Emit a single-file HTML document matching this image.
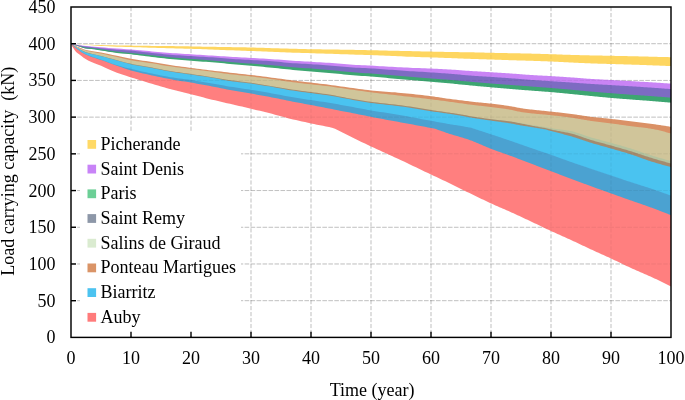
<!DOCTYPE html>
<html><head><meta charset="utf-8"><style>
html,body{margin:0;padding:0;background:#fff;overflow:hidden;}
svg{display:block;will-change:transform;}
text{font-family:"Liberation Serif",serif;font-size:18px;fill:#000;}
</style></head><body>
<svg width="685" height="400" viewBox="0 0 685 400">
<rect width="685" height="400" fill="#fff"/>
<g id="grid" stroke="#000" stroke-opacity="0.2" stroke-width="1" fill="none">
<g stroke-dasharray="4.6 1.38" stroke-dashoffset="-0.2">
<line x1="71" y1="300.69" x2="671" y2="300.69"/>
<line x1="71" y1="263.98" x2="671" y2="263.98"/>
<line x1="71" y1="227.27" x2="671" y2="227.27"/>
<line x1="71" y1="190.56" x2="671" y2="190.56"/>
<line x1="71" y1="153.84" x2="671" y2="153.84"/>
<line x1="71" y1="117.13" x2="671" y2="117.13"/>
<line x1="71" y1="80.42" x2="671" y2="80.42"/>
<line x1="71" y1="43.71" x2="671" y2="43.71"/>
</g>
<g stroke-dasharray="4.2 1.78">
<line x1="131.00" y1="7" x2="131.00" y2="337"/>
<line x1="191.00" y1="7" x2="191.00" y2="337"/>
<line x1="251.00" y1="7" x2="251.00" y2="337"/>
<line x1="311.00" y1="7" x2="311.00" y2="337"/>
<line x1="371.00" y1="7" x2="371.00" y2="337"/>
<line x1="431.00" y1="7" x2="431.00" y2="337"/>
<line x1="491.00" y1="7" x2="491.00" y2="337"/>
<line x1="551.00" y1="7" x2="551.00" y2="337"/>
<line x1="611.00" y1="7" x2="611.00" y2="337"/>
</g>
</g>
<polygon points="71.00,43.67 71.10,43.72 71.42,43.88 71.94,44.13 72.67,44.49 73.60,44.93 74.75,45.47 76.10,46.08 77.67,46.75 79.44,47.49 81.42,48.31 83.60,49.16 86.00,49.90 88.60,50.49 91.42,51.02 94.44,51.52 97.67,52.02 101.10,52.62 104.75,53.33 108.60,54.10 112.67,54.92 116.94,55.79 121.42,56.74 126.10,57.74 131.00,58.70 134.00,59.23 137.00,59.72 140.00,60.19 143.00,60.65 146.00,61.11 149.00,61.58 152.00,62.06 155.00,62.56 158.00,63.07 161.00,63.58 164.00,64.09 167.00,64.58 170.00,65.05 173.00,65.49 176.00,65.92 179.00,66.33 182.00,66.73 185.00,67.12 188.00,67.51 191.00,67.90 194.00,68.29 197.00,68.67 200.00,69.04 203.00,69.42 206.00,69.79 209.00,70.15 212.00,70.52 215.00,70.89 218.00,71.26 221.00,71.62 224.00,71.98 227.00,72.33 230.00,72.68 233.00,73.03 236.00,73.36 239.00,73.68 242.00,74.00 245.00,74.33 248.00,74.66 251.00,75.00 254.00,75.36 257.00,75.72 260.00,76.09 263.00,76.47 266.00,76.85 269.00,77.24 272.00,77.63 275.00,78.03 278.00,78.44 281.00,78.86 284.00,79.27 287.00,79.68 290.00,80.07 293.00,80.45 296.00,80.82 299.00,81.18 302.00,81.54 305.00,81.89 308.00,82.24 311.00,82.60 314.00,82.96 317.00,83.31 320.00,83.66 323.00,84.01 326.00,84.37 329.00,84.74 332.00,85.13 335.00,85.55 338.00,85.98 341.00,86.40 344.00,86.82 347.00,87.24 350.00,87.67 353.00,88.11 356.00,88.53 359.00,88.94 362.00,89.34 365.00,89.72 368.00,90.08 371.00,90.40 374.00,90.69 377.00,90.96 380.00,91.21 383.00,91.45 386.00,91.68 389.00,91.91 392.00,92.14 395.00,92.37 398.00,92.63 401.00,92.90 404.00,93.19 407.00,93.49 410.00,93.79 413.00,94.11 416.00,94.43 419.00,94.77 422.00,95.11 425.00,95.46 428.00,95.83 431.00,96.20 434.00,96.60 436.00,96.89 437.00,97.03 439.00,97.34 440.00,97.49 442.00,97.79 443.00,97.95 445.00,98.25 446.00,98.40 448.00,98.69 449.00,98.83 451.00,99.10 452.00,99.23 454.00,99.47 455.00,99.59 457.00,99.82 458.00,99.94 460.00,100.18 461.00,100.30 463.00,100.56 464.00,100.69 466.00,100.96 467.00,101.10 469.00,101.35 470.00,101.48 471.00,101.59 472.00,101.71 473.00,101.82 474.00,101.92 475.00,102.03 476.00,102.13 477.00,102.22 478.00,102.32 479.00,102.41 480.00,102.51 481.00,102.60 482.00,102.69 483.00,102.79 484.00,102.88 485.00,102.97 486.00,103.07 487.00,103.17 488.00,103.27 489.00,103.38 490.00,103.49 491.00,103.60 492.00,103.72 493.00,103.83 494.00,103.95 495.00,104.07 496.00,104.20 497.00,104.32 498.00,104.45 499.00,104.57 500.00,104.70 501.00,104.84 502.00,104.97 503.00,105.11 504.00,105.25 505.00,105.39 506.00,105.53 507.00,105.68 508.00,105.83 509.00,105.98 510.00,106.15 511.00,106.31 512.00,106.47 513.00,106.66 514.00,106.86 515.00,107.05 516.00,107.26 517.00,107.46 518.00,107.66 519.00,107.84 520.00,108.02 521.00,108.20 522.00,108.34 523.00,108.49 524.00,108.63 525.00,108.76 526.00,108.89 527.00,109.02 528.00,109.14 529.00,109.26 530.00,109.38 531.00,109.50 532.00,109.61 533.00,109.73 534.00,109.84 535.00,109.95 536.00,110.06 537.00,110.16 538.00,110.26 539.00,110.37 540.00,110.47 541.00,110.57 542.00,110.67 543.00,110.77 544.00,110.87 545.00,110.97 546.00,111.07 547.00,111.18 548.00,111.28 549.00,111.39 550.00,111.49 551.00,111.60 552.00,111.71 553.00,111.82 554.00,111.93 555.00,112.04 556.00,112.15 557.00,112.26 558.00,112.37 559.00,112.48 560.00,112.59 561.00,112.70 562.00,112.82 563.00,112.93 564.00,113.05 565.00,113.17 566.00,113.28 567.00,113.40 568.00,113.53 569.00,113.65 570.00,113.78 571.00,113.90 572.00,114.03 573.00,114.17 574.00,114.31 575.00,114.45 576.00,114.60 577.00,114.75 578.00,114.90 579.00,115.06 580.00,115.21 581.00,115.37 582.00,115.52 583.00,115.67 584.00,115.83 585.00,115.97 586.00,116.12 587.00,116.27 588.00,116.40 589.00,116.54 590.00,116.68 591.00,116.80 592.00,116.92 593.00,117.04 594.00,117.15 595.00,117.26 596.00,117.37 597.00,117.47 598.00,117.57 599.00,117.67 600.00,117.77 601.00,117.87 602.00,117.97 603.00,118.07 604.00,118.17 605.00,118.27 606.00,118.37 607.00,118.47 608.00,118.58 609.00,118.68 610.00,118.79 611.00,118.90 612.00,119.01 613.00,119.13 614.00,119.24 615.00,119.36 616.00,119.48 617.00,119.59 618.00,119.71 619.00,119.83 620.00,119.95 621.00,120.07 622.00,120.20 623.00,120.32 624.00,120.44 625.00,120.56 626.00,120.69 627.00,120.81 628.00,120.93 629.00,121.05 630.00,121.18 631.00,121.30 632.00,121.42 633.00,121.54 634.00,121.66 635.00,121.79 636.00,121.91 637.00,122.03 638.00,122.15 639.00,122.27 640.00,122.39 641.00,122.52 642.00,122.64 643.00,122.76 644.00,122.89 645.00,123.01 646.00,123.14 647.00,123.27 648.00,123.40 649.00,123.53 650.00,123.66 651.00,123.80 652.00,123.94 653.00,124.08 654.00,124.22 655.00,124.36 656.00,124.50 657.00,124.65 658.00,124.79 659.00,124.94 660.00,125.09 661.00,125.24 662.00,125.39 663.00,125.54 664.00,125.69 665.00,125.85 666.00,126.00 667.00,126.16 668.00,126.32 669.00,126.48 670.00,126.64 671.00,126.80 671.00,134.60 670.00,134.30 669.00,134.00 668.00,133.70 667.00,133.42 666.00,133.14 665.00,132.85 664.00,132.59 663.00,132.32 662.00,132.05 661.00,131.81 660.00,131.56 659.00,131.32 658.00,131.09 657.00,130.87 656.00,130.65 655.00,130.45 654.00,130.25 653.00,130.05 652.00,129.88 651.00,129.71 650.00,129.54 649.00,129.39 648.00,129.25 647.00,129.10 646.00,128.97 645.00,128.84 644.00,128.72 643.00,128.60 642.00,128.48 641.00,128.37 640.00,128.25 639.00,128.14 638.00,128.03 637.00,127.92 636.00,127.81 635.00,127.69 634.00,127.57 633.00,127.45 632.00,127.33 631.00,127.20 630.00,127.06 629.00,126.93 628.00,126.79 627.00,126.65 626.00,126.51 625.00,126.37 624.00,126.23 623.00,126.09 622.00,125.94 621.00,125.80 620.00,125.66 619.00,125.51 618.00,125.37 617.00,125.23 616.00,125.09 615.00,124.95 614.00,124.81 613.00,124.67 612.00,124.54 611.00,124.40 610.00,124.27 609.00,124.14 608.00,124.02 607.00,123.89 606.00,123.77 605.00,123.65 604.00,123.53 603.00,123.41 602.00,123.29 601.00,123.17 600.00,123.06 599.00,122.94 598.00,122.81 597.00,122.69 596.00,122.57 595.00,122.44 594.00,122.31 593.00,122.18 592.00,122.04 591.00,121.90 590.00,121.75 589.00,121.60 588.00,121.44 587.00,121.28 586.00,121.11 585.00,120.94 584.00,120.77 583.00,120.59 582.00,120.42 581.00,120.24 580.00,120.07 579.00,119.89 578.00,119.71 577.00,119.55 576.00,119.38 575.00,119.21 574.00,119.05 573.00,118.90 572.00,118.74 571.00,118.60 570.00,118.47 569.00,118.33 568.00,118.20 567.00,118.06 566.00,117.93 565.00,117.81 564.00,117.68 563.00,117.56 562.00,117.44 561.00,117.32 560.00,117.20 559.00,117.08 558.00,116.97 557.00,116.86 556.00,116.74 555.00,116.63 554.00,116.52 553.00,116.42 552.00,116.31 551.00,116.20 550.00,116.10 549.00,116.00 548.00,115.90 547.00,115.80 546.00,115.71 545.00,115.62 544.00,115.53 543.00,115.44 542.00,115.35 541.00,115.26 540.00,115.18 539.00,115.09 538.00,115.00 537.00,114.90 536.00,114.81 535.00,114.71 534.00,114.61 533.00,114.52 532.00,114.41 531.00,114.30 530.00,114.19 529.00,114.07 528.00,113.95 527.00,113.84 526.00,113.71 525.00,113.58 524.00,113.45 523.00,113.30 522.00,113.15 521.00,113.00 520.00,112.80 519.00,112.60 518.00,112.40 517.00,112.15 516.00,111.91 515.00,111.67 514.00,111.44 513.00,111.22 512.00,110.99 511.00,110.81 510.00,110.64 509.00,110.46 508.00,110.30 507.00,110.15 506.00,109.99 505.00,109.84 504.00,109.70 503.00,109.55 502.00,109.42 501.00,109.28 500.00,109.14 499.00,109.01 498.00,108.88 497.00,108.75 496.00,108.63 495.00,108.50 494.00,108.38 493.00,108.25 492.00,108.13 491.00,108.00 490.00,107.88 489.00,107.76 488.00,107.64 487.00,107.52 486.00,107.41 485.00,107.29 484.00,107.18 483.00,107.07 482.00,106.96 481.00,106.85 480.00,106.74 479.00,106.63 478.00,106.52 477.00,106.41 476.00,106.30 475.00,106.18 474.00,106.07 473.00,105.95 472.00,105.82 471.00,105.70 470.00,105.57 469.00,105.43 467.00,105.16 466.00,105.01 464.00,104.73 463.00,104.59 461.00,104.30 460.00,104.16 458.00,103.88 457.00,103.74 455.00,103.45 454.00,103.31 452.00,103.04 451.00,102.90 449.00,102.63 448.00,102.50 446.00,102.23 445.00,102.10 443.00,101.83 442.00,101.70 440.00,101.44 439.00,101.31 437.00,101.05 436.00,100.93 434.00,100.67 431.00,100.30 428.00,99.93 425.00,99.57 422.00,99.22 419.00,98.87 416.00,98.52 413.00,98.18 410.00,97.84 407.00,97.49 404.00,97.15 401.00,96.80 398.00,96.45 395.00,96.11 392.00,95.77 389.00,95.43 386.00,95.09 383.00,94.75 380.00,94.40 377.00,94.04 374.00,93.68 371.00,93.30 368.00,92.91 365.00,92.51 362.00,92.11 359.00,91.69 356.00,91.27 353.00,90.84 350.00,90.41 347.00,89.97 344.00,89.54 341.00,89.10 338.00,88.65 335.00,88.18 332.00,87.74 329.00,87.34 326.00,86.98 323.00,86.63 320.00,86.30 317.00,85.97 314.00,85.64 311.00,85.30 308.00,84.96 305.00,84.63 302.00,84.30 299.00,83.96 296.00,83.62 293.00,83.25 290.00,82.87 287.00,82.44 284.00,81.99 281.00,81.52 278.00,81.05 275.00,80.59 272.00,80.14 269.00,79.72 266.00,79.31 263.00,78.91 260.00,78.51 257.00,78.13 254.00,77.76 251.00,77.40 248.00,77.07 245.00,76.75 242.00,76.45 239.00,76.16 236.00,75.85 233.00,75.53 230.00,75.18 227.00,74.80 224.00,74.40 221.00,73.98 218.00,73.56 215.00,73.14 212.00,72.73 209.00,72.34 206.00,71.96 203.00,71.59 200.00,71.22 197.00,70.85 194.00,70.48 191.00,70.10 188.00,69.72 185.00,69.35 182.00,68.97 179.00,68.59 176.00,68.20 173.00,67.79 170.00,67.35 167.00,66.89 164.00,66.39 161.00,65.88 158.00,65.36 155.00,64.85 152.00,64.36 149.00,63.89 146.00,63.46 143.00,63.04 140.00,62.62 137.00,62.19 134.00,61.72 131.00,61.20 126.10,60.19 121.42,59.08 116.94,58.01 112.67,57.05 108.60,56.14 104.75,55.29 101.10,54.52 97.67,53.88 94.44,53.33 91.42,52.81 88.60,52.24 86.00,51.60 83.60,50.86 81.42,50.03 79.44,49.18 77.67,48.34 76.10,47.54 74.75,46.82 73.60,46.18 72.67,45.65 71.94,45.22 71.42,44.56 71.10,43.90 71.00,43.67" fill="#DA9166"/>
<polygon points="71.00,43.67 71.10,43.73 71.42,43.92 71.94,44.22 72.67,44.65 73.60,45.18 74.75,45.82 76.10,46.54 77.67,47.34 79.44,48.18 81.42,49.03 83.60,49.86 86.00,50.60 88.60,51.24 91.42,51.81 94.44,52.33 97.67,52.88 101.10,53.52 104.75,54.29 108.60,55.14 112.67,56.05 116.94,57.01 121.42,58.08 126.10,59.19 131.00,60.20 134.00,60.72 137.00,61.19 140.00,61.62 143.00,62.04 146.00,62.46 149.00,62.89 152.00,63.36 155.00,63.85 158.00,64.36 161.00,64.88 164.00,65.39 167.00,65.89 170.00,66.35 173.00,66.79 176.00,67.20 179.00,67.59 182.00,67.97 185.00,68.35 188.00,68.72 191.00,69.10 194.00,69.48 197.00,69.85 200.00,70.22 203.00,70.59 206.00,70.96 209.00,71.34 212.00,71.73 215.00,72.14 218.00,72.56 221.00,72.98 224.00,73.40 227.00,73.80 230.00,74.18 233.00,74.53 236.00,74.85 239.00,75.16 242.00,75.45 245.00,75.75 248.00,76.07 251.00,76.40 254.00,76.76 257.00,77.13 260.00,77.51 263.00,77.91 266.00,78.31 269.00,78.72 272.00,79.14 275.00,79.59 278.00,80.05 281.00,80.52 284.00,80.99 287.00,81.44 290.00,81.87 293.00,82.25 296.00,82.62 299.00,82.96 302.00,83.30 305.00,83.63 308.00,83.96 311.00,84.30 314.00,84.64 317.00,84.97 320.00,85.30 323.00,85.63 326.00,85.98 329.00,86.34 332.00,86.74 335.00,87.18 338.00,87.65 341.00,88.10 344.00,88.54 347.00,88.97 350.00,89.41 353.00,89.84 356.00,90.27 359.00,90.69 362.00,91.11 365.00,91.51 368.00,91.91 371.00,92.30 374.00,92.68 377.00,93.04 380.00,93.40 383.00,93.75 386.00,94.09 389.00,94.43 392.00,94.77 395.00,95.11 398.00,95.45 401.00,95.80 404.00,96.15 407.00,96.49 410.00,96.84 413.00,97.18 416.00,97.52 419.00,97.87 422.00,98.22 425.00,98.57 428.00,98.93 431.00,99.30 434.00,99.67 436.00,99.93 437.00,100.05 439.00,100.31 440.00,100.44 442.00,100.70 443.00,100.83 445.00,101.10 446.00,101.23 448.00,101.50 449.00,101.63 451.00,101.90 452.00,102.04 454.00,102.31 455.00,102.45 457.00,102.74 458.00,102.88 460.00,103.16 461.00,103.30 463.00,103.59 464.00,103.73 466.00,104.01 467.00,104.16 469.00,104.43 470.00,104.57 471.00,104.70 472.00,104.82 473.00,104.95 474.00,105.07 475.00,105.18 476.00,105.30 477.00,105.41 478.00,105.52 479.00,105.63 480.00,105.74 481.00,105.85 482.00,105.96 483.00,106.07 484.00,106.18 485.00,106.29 486.00,106.41 487.00,106.52 488.00,106.64 489.00,106.76 490.00,106.88 491.00,107.00 492.00,107.13 493.00,107.25 494.00,107.38 495.00,107.50 496.00,107.63 497.00,107.75 498.00,107.88 499.00,108.01 500.00,108.14 501.00,108.28 502.00,108.42 503.00,108.55 504.00,108.70 505.00,108.84 506.00,108.99 507.00,109.15 508.00,109.30 509.00,109.46 510.00,109.64 511.00,109.81 512.00,109.99 513.00,110.22 514.00,110.44 515.00,110.67 516.00,110.91 517.00,111.15 518.00,111.40 519.00,111.60 520.00,111.80 521.00,112.00 522.00,112.15 523.00,112.30 524.00,112.45 525.00,112.58 526.00,112.71 527.00,112.84 528.00,112.95 529.00,113.07 530.00,113.19 531.00,113.30 532.00,113.41 533.00,113.52 534.00,113.61 535.00,113.71 536.00,113.81 537.00,113.90 538.00,114.00 539.00,114.09 540.00,114.18 541.00,114.26 542.00,114.35 543.00,114.44 544.00,114.53 545.00,114.62 546.00,114.71 547.00,114.80 548.00,114.90 549.00,115.00 550.00,115.10 551.00,115.20 552.00,115.31 553.00,115.42 554.00,115.52 555.00,115.63 556.00,115.74 557.00,115.86 558.00,115.97 559.00,116.08 560.00,116.20 561.00,116.32 562.00,116.44 563.00,116.56 564.00,116.68 565.00,116.81 566.00,116.93 567.00,117.06 568.00,117.20 569.00,117.33 570.00,117.47 571.00,117.60 572.00,117.74 573.00,117.90 574.00,118.05 575.00,118.21 576.00,118.38 577.00,118.55 578.00,118.71 579.00,118.89 580.00,119.07 581.00,119.24 582.00,119.42 583.00,119.59 584.00,119.77 585.00,119.94 586.00,120.11 587.00,120.28 588.00,120.44 589.00,120.60 590.00,120.75 591.00,120.90 592.00,121.04 593.00,121.18 594.00,121.31 595.00,121.44 596.00,121.57 597.00,121.69 598.00,121.81 599.00,121.94 600.00,122.06 601.00,122.17 602.00,122.29 603.00,122.41 604.00,122.53 605.00,122.65 606.00,122.77 607.00,122.89 608.00,123.02 609.00,123.14 610.00,123.27 611.00,123.40 612.00,123.54 613.00,123.67 614.00,123.81 615.00,123.95 616.00,124.09 617.00,124.23 618.00,124.37 619.00,124.51 620.00,124.66 621.00,124.80 622.00,124.94 623.00,125.09 624.00,125.23 625.00,125.37 626.00,125.51 627.00,125.65 628.00,125.79 629.00,125.93 630.00,126.06 631.00,126.20 632.00,126.33 633.00,126.45 634.00,126.57 635.00,126.69 636.00,126.81 637.00,126.92 638.00,127.03 639.00,127.14 640.00,127.25 641.00,127.37 642.00,127.48 643.00,127.60 644.00,127.72 645.00,127.84 646.00,127.97 647.00,128.10 648.00,128.25 649.00,128.39 650.00,128.54 651.00,128.71 652.00,128.88 653.00,129.05 654.00,129.25 655.00,129.45 656.00,129.65 657.00,129.87 658.00,130.09 659.00,130.32 660.00,130.56 661.00,130.81 662.00,131.05 663.00,131.32 664.00,131.59 665.00,131.85 666.00,132.14 667.00,132.42 668.00,132.70 669.00,133.00 670.00,133.30 671.00,133.60 671.00,162.00 670.00,161.74 669.00,161.47 668.00,161.21 667.00,160.94 666.00,160.66 665.00,160.39 664.00,160.11 663.00,159.83 662.00,159.55 661.00,159.27 660.00,158.98 659.00,158.69 658.00,158.40 657.00,158.11 656.00,157.81 655.00,157.51 654.00,157.21 653.00,156.91 652.00,156.60 651.00,156.30 650.00,155.99 649.00,155.66 648.00,155.34 647.00,155.01 646.00,154.67 645.00,154.34 644.00,154.00 643.00,153.65 642.00,153.30 641.00,152.96 640.00,152.61 639.00,152.26 638.00,151.92 637.00,151.58 636.00,151.24 635.00,150.90 634.00,150.57 633.00,150.24 632.00,149.91 631.00,149.60 630.00,149.29 629.00,148.98 628.00,148.68 627.00,148.38 626.00,148.08 625.00,147.79 624.00,147.49 623.00,147.20 622.00,146.91 621.00,146.62 620.00,146.34 619.00,146.05 618.00,145.77 617.00,145.48 616.00,145.20 615.00,144.92 614.00,144.64 613.00,144.36 612.00,144.08 611.00,143.80 610.00,143.53 609.00,143.25 608.00,142.98 607.00,142.71 606.00,142.44 605.00,142.18 604.00,141.92 603.00,141.65 602.00,141.39 601.00,141.13 600.00,140.86 599.00,140.60 598.00,140.33 597.00,140.07 596.00,139.80 595.00,139.52 594.00,139.25 593.00,138.97 592.00,138.68 591.00,138.39 590.00,138.10 589.00,137.78 588.00,137.45 587.00,137.13 586.00,136.78 585.00,136.43 584.00,136.08 583.00,135.73 582.00,135.37 581.00,135.02 580.00,134.68 579.00,134.34 578.00,134.00 577.00,133.69 576.00,133.38 575.00,133.08 574.00,132.82 573.00,132.57 572.00,132.31 571.00,132.12 570.00,131.92 569.00,131.73 568.00,131.57 567.00,131.41 566.00,131.25 565.00,131.11 564.00,130.98 563.00,130.84 562.00,130.71 561.00,130.59 560.00,130.46 559.00,130.34 558.00,130.21 557.00,130.09 556.00,129.95 555.00,129.81 554.00,129.68 553.00,129.52 552.00,129.36 551.00,129.20 550.00,129.00 549.00,128.80 548.00,128.60 547.00,128.40 546.00,128.20 545.00,128.00 544.00,127.83 543.00,127.66 542.00,127.49 541.00,127.34 540.00,127.19 539.00,127.03 538.00,126.88 537.00,126.73 536.00,126.58 535.00,126.43 534.00,126.28 533.00,126.13 532.00,125.96 531.00,125.79 530.00,125.63 529.00,125.45 528.00,125.27 527.00,125.09 526.00,124.90 525.00,124.72 524.00,124.53 523.00,124.35 522.00,124.18 521.00,124.00 520.00,123.83 519.00,123.66 518.00,123.49 517.00,123.32 516.00,123.16 515.00,122.99 514.00,122.84 513.00,122.69 512.00,122.54 511.00,122.41 510.00,122.28 509.00,122.15 508.00,122.03 507.00,121.91 506.00,121.80 505.00,121.69 504.00,121.59 503.00,121.48 502.00,121.38 501.00,121.28 500.00,121.18 499.00,121.08 498.00,120.98 497.00,120.88 496.00,120.77 495.00,120.66 494.00,120.55 493.00,120.44 492.00,120.32 491.00,120.20 490.00,120.07 489.00,119.94 488.00,119.82 487.00,119.68 486.00,119.55 485.00,119.42 484.00,119.28 483.00,119.14 482.00,119.00 481.00,118.85 480.00,118.71 479.00,118.56 478.00,118.41 477.00,118.26 476.00,118.11 475.00,117.95 474.00,117.79 473.00,117.63 472.00,117.46 471.00,117.29 470.00,117.13 469.00,116.93 467.00,116.55 466.00,116.35 464.00,115.95 463.00,115.77 461.00,115.40 460.00,115.24 458.00,114.92 457.00,114.78 455.00,114.48 454.00,114.34 452.00,114.05 451.00,113.90 449.00,113.61 448.00,113.46 446.00,113.17 445.00,113.03 443.00,112.74 442.00,112.60 440.00,112.31 439.00,112.17 437.00,111.88 436.00,111.74 434.00,111.45 431.00,111.00 428.00,110.54 425.00,110.06 422.00,109.58 419.00,109.08 416.00,108.59 413.00,108.10 410.00,107.62 407.00,107.16 404.00,106.72 401.00,106.30 398.00,105.91 395.00,105.55 392.00,105.21 389.00,104.89 386.00,104.56 383.00,104.24 380.00,103.91 377.00,103.56 374.00,103.20 371.00,102.80 368.00,102.38 365.00,101.93 362.00,101.46 359.00,100.98 356.00,100.48 353.00,99.96 350.00,99.43 347.00,98.90 344.00,98.35 341.00,97.80 338.00,97.20 335.00,96.56 332.00,95.97 329.00,95.48 326.00,95.04 323.00,94.63 320.00,94.25 317.00,93.87 314.00,93.49 311.00,93.10 308.00,92.70 305.00,92.31 302.00,91.92 299.00,91.52 296.00,91.12 293.00,90.70 290.00,90.25 287.00,89.77 284.00,89.26 281.00,88.74 278.00,88.21 275.00,87.68 272.00,87.17 269.00,86.67 266.00,86.17 263.00,85.67 260.00,85.18 257.00,84.70 254.00,84.24 251.00,83.80 248.00,83.40 245.00,83.03 242.00,82.67 239.00,82.32 236.00,81.96 233.00,81.58 230.00,81.16 227.00,80.69 224.00,80.20 221.00,79.69 218.00,79.17 215.00,78.65 212.00,78.16 209.00,77.69 206.00,77.23 203.00,76.77 200.00,76.32 197.00,75.88 194.00,75.44 191.00,75.00 188.00,74.58 185.00,74.17 182.00,73.77 179.00,73.37 176.00,72.96 173.00,72.51 170.00,72.04 167.00,71.51 164.00,70.95 161.00,70.36 158.00,69.76 155.00,69.17 152.00,68.59 149.00,68.04 146.00,67.52 143.00,67.01 140.00,66.50 137.00,65.97 134.00,65.41 131.00,64.80 126.10,63.66 121.42,62.44 116.94,61.25 112.67,60.12 108.60,59.02 104.75,57.98 101.10,57.03 97.67,56.22 94.44,55.52 91.42,54.84 88.60,54.11 86.00,53.30 83.60,52.36 81.42,51.33 79.44,50.27 77.67,49.22 76.10,48.24 74.75,47.34 73.60,46.55 72.67,45.88 71.94,45.36 71.42,44.56 71.10,43.90 71.00,43.67" fill="#D0C59A"/>
<polygon points="71.00,43.67 71.10,43.75 71.42,43.98 71.94,44.36 72.67,44.88 73.60,45.55 74.75,46.34 76.10,47.24 77.67,48.22 79.44,49.27 81.42,50.33 83.60,51.36 86.00,52.30 88.60,53.11 91.42,53.84 94.44,54.52 97.67,55.22 101.10,56.03 104.75,56.98 108.60,58.02 112.67,59.12 116.94,60.25 121.42,61.44 126.10,62.66 131.00,63.80 134.00,64.41 137.00,64.97 140.00,65.50 143.00,66.01 146.00,66.52 149.00,67.04 152.00,67.59 155.00,68.17 158.00,68.76 161.00,69.36 164.00,69.95 167.00,70.51 170.00,71.04 173.00,71.51 176.00,71.96 179.00,72.37 182.00,72.77 185.00,73.17 188.00,73.58 191.00,74.00 194.00,74.44 197.00,74.88 200.00,75.32 203.00,75.77 206.00,76.23 209.00,76.69 212.00,77.16 215.00,77.65 218.00,78.17 221.00,78.69 224.00,79.20 227.00,79.69 230.00,80.16 233.00,80.58 236.00,80.96 239.00,81.32 242.00,81.67 245.00,82.03 248.00,82.40 251.00,82.80 254.00,83.24 257.00,83.70 260.00,84.18 263.00,84.67 266.00,85.17 269.00,85.67 272.00,86.17 275.00,86.68 278.00,87.21 281.00,87.74 284.00,88.26 287.00,88.77 290.00,89.25 293.00,89.70 296.00,90.12 299.00,90.52 302.00,90.92 305.00,91.31 308.00,91.70 311.00,92.10 314.00,92.49 317.00,92.87 320.00,93.25 323.00,93.63 326.00,94.04 329.00,94.48 332.00,94.97 335.00,95.56 338.00,96.20 341.00,96.80 344.00,97.35 347.00,97.90 350.00,98.43 353.00,98.96 356.00,99.48 359.00,99.98 362.00,100.46 365.00,100.93 368.00,101.38 371.00,101.80 374.00,102.20 377.00,102.56 380.00,102.91 383.00,103.24 386.00,103.56 389.00,103.89 392.00,104.21 395.00,104.55 398.00,104.91 401.00,105.30 404.00,105.72 407.00,106.16 410.00,106.62 413.00,107.10 416.00,107.59 419.00,108.08 422.00,108.58 425.00,109.06 428.00,109.54 431.00,110.00 434.00,110.45 436.00,110.74 437.00,110.88 439.00,111.17 440.00,111.31 442.00,111.60 443.00,111.74 445.00,112.03 446.00,112.17 448.00,112.46 449.00,112.61 451.00,112.90 452.00,113.05 454.00,113.34 455.00,113.48 457.00,113.78 458.00,113.92 460.00,114.24 461.00,114.40 463.00,114.77 464.00,114.95 466.00,115.35 467.00,115.55 469.00,115.93 470.00,116.13 471.00,116.29 472.00,116.46 473.00,116.63 474.00,116.79 475.00,116.95 476.00,117.11 477.00,117.26 478.00,117.41 479.00,117.56 480.00,117.71 481.00,117.85 482.00,118.00 483.00,118.14 484.00,118.28 485.00,118.42 486.00,118.55 487.00,118.68 488.00,118.82 489.00,118.94 490.00,119.07 491.00,119.20 492.00,119.32 493.00,119.44 494.00,119.55 495.00,119.66 496.00,119.77 497.00,119.88 498.00,119.98 499.00,120.08 500.00,120.18 501.00,120.28 502.00,120.38 503.00,120.48 504.00,120.59 505.00,120.69 506.00,120.80 507.00,120.91 508.00,121.03 509.00,121.15 510.00,121.28 511.00,121.41 512.00,121.54 513.00,121.69 514.00,121.84 515.00,121.99 516.00,122.16 517.00,122.32 518.00,122.49 519.00,122.66 520.00,122.83 521.00,123.00 522.00,123.18 523.00,123.35 524.00,123.53 525.00,123.72 526.00,123.90 527.00,124.09 528.00,124.27 529.00,124.45 530.00,124.63 531.00,124.79 532.00,124.96 533.00,125.13 534.00,125.28 535.00,125.43 536.00,125.58 537.00,125.73 538.00,125.88 539.00,126.03 540.00,126.19 541.00,126.34 542.00,126.49 543.00,126.66 544.00,126.83 545.00,127.00 546.00,127.20 547.00,127.40 548.00,127.60 549.00,127.80 550.00,128.00 551.00,128.20 552.00,128.36 553.00,128.52 554.00,128.68 555.00,128.81 556.00,128.95 557.00,129.09 558.00,129.21 559.00,129.34 560.00,129.46 561.00,129.59 562.00,129.71 563.00,129.84 564.00,129.98 565.00,130.11 566.00,130.25 567.00,130.41 568.00,130.57 569.00,130.73 570.00,130.92 571.00,131.12 572.00,131.31 573.00,131.57 574.00,131.82 575.00,132.08 576.00,132.38 577.00,132.69 578.00,133.00 579.00,133.34 580.00,133.68 581.00,134.02 582.00,134.37 583.00,134.73 584.00,135.08 585.00,135.43 586.00,135.78 587.00,136.13 588.00,136.45 589.00,136.78 590.00,137.10 591.00,137.39 592.00,137.68 593.00,137.97 594.00,138.25 595.00,138.52 596.00,138.80 597.00,139.07 598.00,139.33 599.00,139.60 600.00,139.86 601.00,140.13 602.00,140.39 603.00,140.65 604.00,140.92 605.00,141.18 606.00,141.44 607.00,141.71 608.00,141.98 609.00,142.25 610.00,142.53 611.00,142.80 612.00,143.08 613.00,143.36 614.00,143.64 615.00,143.92 616.00,144.20 617.00,144.48 618.00,144.77 619.00,145.05 620.00,145.34 621.00,145.62 622.00,145.91 623.00,146.20 624.00,146.49 625.00,146.79 626.00,147.08 627.00,147.38 628.00,147.68 629.00,147.98 630.00,148.29 631.00,148.60 632.00,148.91 633.00,149.24 634.00,149.57 635.00,149.90 636.00,150.24 637.00,150.58 638.00,150.92 639.00,151.26 640.00,151.61 641.00,151.96 642.00,152.30 643.00,152.65 644.00,153.00 645.00,153.34 646.00,153.67 647.00,154.01 648.00,154.34 649.00,154.66 650.00,154.99 651.00,155.30 652.00,155.60 653.00,155.91 654.00,156.21 655.00,156.51 656.00,156.81 657.00,157.11 658.00,157.40 659.00,157.69 660.00,157.98 661.00,158.27 662.00,158.55 663.00,158.83 664.00,159.11 665.00,159.39 666.00,159.66 667.00,159.94 668.00,160.21 669.00,160.47 670.00,160.74 671.00,161.00 671.00,164.50 670.00,164.23 669.00,163.96 668.00,163.70 667.00,163.42 666.00,163.15 665.00,162.87 664.00,162.59 663.00,162.31 662.00,162.03 661.00,161.74 660.00,161.46 659.00,161.17 658.00,160.88 657.00,160.59 656.00,160.30 655.00,160.00 654.00,159.70 653.00,159.40 652.00,159.10 651.00,158.80 650.00,158.49 649.00,158.18 648.00,157.86 647.00,157.54 646.00,157.21 645.00,156.89 644.00,156.56 643.00,156.22 642.00,155.89 641.00,155.56 640.00,155.22 639.00,154.89 638.00,154.55 637.00,154.22 636.00,153.90 635.00,153.57 634.00,153.25 633.00,152.93 632.00,152.61 631.00,152.30 630.00,152.00 629.00,151.69 628.00,151.39 627.00,151.09 626.00,150.80 625.00,150.50 624.00,150.21 623.00,149.92 622.00,149.63 621.00,149.34 620.00,149.05 619.00,148.77 618.00,148.48 617.00,148.20 616.00,147.91 615.00,147.63 614.00,147.35 613.00,147.06 612.00,146.78 611.00,146.50 610.00,146.22 609.00,145.95 608.00,145.67 607.00,145.40 606.00,145.13 605.00,144.86 604.00,144.59 603.00,144.32 602.00,144.06 601.00,143.79 600.00,143.52 599.00,143.25 598.00,142.98 597.00,142.71 596.00,142.43 595.00,142.15 594.00,141.87 593.00,141.59 592.00,141.29 591.00,140.99 590.00,140.70 589.00,140.37 588.00,140.05 587.00,139.72 586.00,139.37 585.00,139.03 584.00,138.68 583.00,138.33 582.00,137.98 581.00,137.62 580.00,137.28 579.00,136.93 578.00,136.59 577.00,136.27 576.00,135.94 575.00,135.62 574.00,135.33 573.00,135.04 572.00,134.76 571.00,134.51 570.00,134.27 569.00,134.03 568.00,133.82 567.00,133.60 566.00,133.39 565.00,133.20 564.00,133.01 563.00,132.81 562.00,132.63 561.00,132.45 560.00,132.27 559.00,132.08 558.00,131.90 557.00,131.72 556.00,131.53 555.00,131.33 554.00,131.14 553.00,130.93 552.00,130.71 551.00,130.50 550.00,130.26 549.00,130.02 548.00,129.78 547.00,129.52 546.00,129.26 545.00,129.00 544.00,128.83 543.00,128.66 542.00,128.49 541.00,128.32 540.00,128.14 539.00,127.97 538.00,127.79 537.00,127.61 536.00,127.43 535.00,127.24 534.00,127.06 533.00,126.88 532.00,126.69 531.00,126.50 530.00,126.31 529.00,126.11 528.00,125.91 527.00,125.71 526.00,125.51 525.00,125.30 524.00,125.10 523.00,124.90 522.00,124.70 521.00,124.50 520.00,124.30 519.00,124.10 518.00,123.90 517.00,123.70 516.00,123.50 515.00,123.30 514.00,123.12 513.00,122.94 512.00,122.76 511.00,122.61 510.00,122.46 509.00,122.31 508.00,122.18 507.00,122.05 506.00,121.92 505.00,121.81 504.00,121.69 503.00,121.57 502.00,121.46 501.00,121.35 500.00,121.24 499.00,121.13 498.00,121.02 497.00,120.91 496.00,120.80 495.00,120.69 494.00,120.57 493.00,120.45 492.00,120.32 491.00,120.20 490.00,120.07 489.00,119.94 488.00,119.80 487.00,119.67 486.00,119.53 485.00,119.40 484.00,119.26 483.00,119.12 482.00,118.98 481.00,118.84 480.00,118.69 479.00,118.55 478.00,118.40 477.00,118.25 476.00,118.10 475.00,117.94 474.00,117.79 473.00,117.63 472.00,117.46 471.00,117.29 470.00,117.13 469.00,116.93 467.00,116.55 466.00,116.35 464.00,115.95 463.00,115.77 461.00,115.40 460.00,115.24 458.00,114.92 457.00,114.78 455.00,114.48 454.00,114.34 452.00,114.05 451.00,113.90 449.00,113.61 448.00,113.46 446.00,113.17 445.00,113.03 443.00,112.74 442.00,112.60 440.00,112.31 439.00,112.17 437.00,111.88 436.00,111.74 434.00,111.45 431.00,111.00 428.00,110.54 425.00,110.06 422.00,109.58 419.00,109.08 416.00,108.59 413.00,108.10 410.00,107.62 407.00,107.16 404.00,106.72 401.00,106.30 398.00,105.91 395.00,105.55 392.00,105.21 389.00,104.89 386.00,104.56 383.00,104.24 380.00,103.91 377.00,103.56 374.00,103.20 371.00,102.80 368.00,102.38 365.00,101.93 362.00,101.46 359.00,100.98 356.00,100.48 353.00,99.96 350.00,99.43 347.00,98.90 344.00,98.35 341.00,97.80 338.00,97.20 335.00,96.56 332.00,95.97 329.00,95.48 326.00,95.04 323.00,94.63 320.00,94.25 317.00,93.87 314.00,93.49 311.00,93.10 308.00,92.70 305.00,92.31 302.00,91.92 299.00,91.52 296.00,91.12 293.00,90.70 290.00,90.25 287.00,89.77 284.00,89.26 281.00,88.74 278.00,88.21 275.00,87.68 272.00,87.17 269.00,86.67 266.00,86.17 263.00,85.67 260.00,85.18 257.00,84.70 254.00,84.24 251.00,83.80 248.00,83.40 245.00,83.03 242.00,82.67 239.00,82.32 236.00,81.96 233.00,81.58 230.00,81.16 227.00,80.69 224.00,80.20 221.00,79.69 218.00,79.17 215.00,78.65 212.00,78.16 209.00,77.69 206.00,77.23 203.00,76.77 200.00,76.32 197.00,75.88 194.00,75.44 191.00,75.00 188.00,74.58 185.00,74.17 182.00,73.77 179.00,73.37 176.00,72.96 173.00,72.51 170.00,72.04 167.00,71.51 164.00,70.95 161.00,70.36 158.00,69.76 155.00,69.17 152.00,68.59 149.00,68.04 146.00,67.52 143.00,67.01 140.00,66.50 137.00,65.97 134.00,65.41 131.00,64.80 126.10,63.66 121.42,62.44 116.94,61.25 112.67,60.12 108.60,59.02 104.75,57.98 101.10,57.03 97.67,56.22 94.44,55.52 91.42,54.84 88.60,54.11 86.00,53.30 83.60,52.36 81.42,51.33 79.44,50.27 77.67,49.22 76.10,48.24 74.75,47.34 73.60,46.55 72.67,45.88 71.94,45.36 71.42,44.56 71.10,43.90 71.00,43.67" fill="#B5C39F"/>
<polygon points="71.00,43.67 71.10,43.75 71.42,43.98 71.94,44.36 72.67,44.88 73.60,45.55 74.75,46.34 76.10,47.24 77.67,48.22 79.44,49.27 81.42,50.33 83.60,51.36 86.00,52.30 88.60,53.11 91.42,53.84 94.44,54.52 97.67,55.22 101.10,56.03 104.75,56.98 108.60,58.02 112.67,59.12 116.94,60.25 121.42,61.44 126.10,62.66 131.00,63.80 134.00,64.41 137.00,64.97 140.00,65.50 143.00,66.01 146.00,66.52 149.00,67.04 152.00,67.59 155.00,68.17 158.00,68.76 161.00,69.36 164.00,69.95 167.00,70.51 170.00,71.04 173.00,71.51 176.00,71.96 179.00,72.37 182.00,72.77 185.00,73.17 188.00,73.58 191.00,74.00 194.00,74.44 197.00,74.88 200.00,75.32 203.00,75.77 206.00,76.23 209.00,76.69 212.00,77.16 215.00,77.65 218.00,78.17 221.00,78.69 224.00,79.20 227.00,79.69 230.00,80.16 233.00,80.58 236.00,80.96 239.00,81.32 242.00,81.67 245.00,82.03 248.00,82.40 251.00,82.80 254.00,83.24 257.00,83.70 260.00,84.18 263.00,84.67 266.00,85.17 269.00,85.67 272.00,86.17 275.00,86.68 278.00,87.21 281.00,87.74 284.00,88.26 287.00,88.77 290.00,89.25 293.00,89.70 296.00,90.12 299.00,90.52 302.00,90.92 305.00,91.31 308.00,91.70 311.00,92.10 314.00,92.49 317.00,92.87 320.00,93.25 323.00,93.63 326.00,94.04 329.00,94.48 332.00,94.97 335.00,95.56 338.00,96.20 341.00,96.80 344.00,97.35 347.00,97.90 350.00,98.43 353.00,98.96 356.00,99.48 359.00,99.98 362.00,100.46 365.00,100.93 368.00,101.38 371.00,101.80 374.00,102.20 377.00,102.56 380.00,102.91 383.00,103.24 386.00,103.56 389.00,103.89 392.00,104.21 395.00,104.55 398.00,104.91 401.00,105.30 404.00,105.72 407.00,106.16 410.00,106.62 413.00,107.10 416.00,107.59 419.00,108.08 422.00,108.58 425.00,109.06 428.00,109.54 431.00,110.00 434.00,110.45 436.00,110.74 437.00,110.88 439.00,111.17 440.00,111.31 442.00,111.60 443.00,111.74 445.00,112.03 446.00,112.17 448.00,112.46 449.00,112.61 451.00,112.90 452.00,113.05 454.00,113.34 455.00,113.48 457.00,113.78 458.00,113.92 460.00,114.24 461.00,114.40 463.00,114.77 464.00,114.95 466.00,115.35 467.00,115.55 469.00,115.93 470.00,116.13 471.00,116.29 472.00,116.46 473.00,116.63 474.00,116.79 475.00,116.94 476.00,117.10 477.00,117.25 478.00,117.40 479.00,117.55 480.00,117.69 481.00,117.84 482.00,117.98 483.00,118.12 484.00,118.26 485.00,118.40 486.00,118.53 487.00,118.67 488.00,118.80 489.00,118.94 490.00,119.07 491.00,119.20 492.00,119.32 493.00,119.45 494.00,119.57 495.00,119.69 496.00,119.80 497.00,119.91 498.00,120.02 499.00,120.13 500.00,120.24 501.00,120.35 502.00,120.46 503.00,120.57 504.00,120.69 505.00,120.81 506.00,120.92 507.00,121.05 508.00,121.18 509.00,121.31 510.00,121.46 511.00,121.61 512.00,121.76 513.00,121.94 514.00,122.12 515.00,122.30 516.00,122.50 517.00,122.70 518.00,122.90 519.00,123.10 520.00,123.30 521.00,123.50 522.00,123.70 523.00,123.90 524.00,124.10 525.00,124.30 526.00,124.51 527.00,124.71 528.00,124.91 529.00,125.11 530.00,125.31 531.00,125.50 532.00,125.69 533.00,125.88 534.00,126.06 535.00,126.24 536.00,126.43 537.00,126.61 538.00,126.79 539.00,126.97 540.00,127.14 541.00,127.32 542.00,127.49 543.00,127.66 544.00,127.83 545.00,128.00 546.00,128.26 547.00,128.52 548.00,128.78 549.00,129.02 550.00,129.26 551.00,129.50 552.00,129.71 553.00,129.93 554.00,130.14 555.00,130.33 556.00,130.53 557.00,130.72 558.00,130.90 559.00,131.08 560.00,131.27 561.00,131.45 562.00,131.63 563.00,131.81 564.00,132.01 565.00,132.20 566.00,132.39 567.00,132.60 568.00,132.82 569.00,133.03 570.00,133.27 571.00,133.51 572.00,133.76 573.00,134.04 574.00,134.33 575.00,134.62 576.00,134.94 577.00,135.27 578.00,135.59 579.00,135.93 580.00,136.28 581.00,136.62 582.00,136.98 583.00,137.33 584.00,137.68 585.00,138.03 586.00,138.37 587.00,138.72 588.00,139.05 589.00,139.37 590.00,139.70 591.00,139.99 592.00,140.29 593.00,140.59 594.00,140.87 595.00,141.15 596.00,141.43 597.00,141.71 598.00,141.98 599.00,142.25 600.00,142.52 601.00,142.79 602.00,143.06 603.00,143.32 604.00,143.59 605.00,143.86 606.00,144.13 607.00,144.40 608.00,144.67 609.00,144.95 610.00,145.22 611.00,145.50 612.00,145.78 613.00,146.06 614.00,146.35 615.00,146.63 616.00,146.91 617.00,147.20 618.00,147.48 619.00,147.77 620.00,148.05 621.00,148.34 622.00,148.63 623.00,148.92 624.00,149.21 625.00,149.50 626.00,149.80 627.00,150.09 628.00,150.39 629.00,150.69 630.00,151.00 631.00,151.30 632.00,151.61 633.00,151.93 634.00,152.25 635.00,152.57 636.00,152.90 637.00,153.22 638.00,153.55 639.00,153.89 640.00,154.22 641.00,154.56 642.00,154.89 643.00,155.22 644.00,155.56 645.00,155.89 646.00,156.21 647.00,156.54 648.00,156.86 649.00,157.18 650.00,157.49 651.00,157.80 652.00,158.10 653.00,158.40 654.00,158.70 655.00,159.00 656.00,159.30 657.00,159.59 658.00,159.88 659.00,160.17 660.00,160.46 661.00,160.74 662.00,161.03 663.00,161.31 664.00,161.59 665.00,161.87 666.00,162.15 667.00,162.42 668.00,162.70 669.00,162.96 670.00,163.23 671.00,163.50 671.00,168.00 670.00,167.75 669.00,167.50 668.00,167.25 667.00,166.99 666.00,166.72 665.00,166.46 664.00,166.19 663.00,165.92 662.00,165.64 661.00,165.36 660.00,165.08 659.00,164.80 658.00,164.50 657.00,164.21 656.00,163.92 655.00,163.62 654.00,163.32 653.00,163.02 652.00,162.71 651.00,162.39 650.00,162.08 649.00,161.75 648.00,161.41 647.00,161.08 646.00,160.73 645.00,160.37 644.00,160.02 643.00,159.65 642.00,159.29 641.00,158.92 640.00,158.56 639.00,158.19 638.00,157.82 637.00,157.47 636.00,157.11 635.00,156.75 634.00,156.41 633.00,156.07 632.00,155.72 631.00,155.41 630.00,155.09 629.00,154.77 628.00,154.46 627.00,154.16 626.00,153.85 625.00,153.55 624.00,153.26 623.00,152.96 622.00,152.67 621.00,152.38 620.00,152.09 619.00,151.80 618.00,151.51 617.00,151.22 616.00,150.94 615.00,150.65 614.00,150.36 613.00,150.08 612.00,149.79 611.00,149.50 610.00,149.21 609.00,148.93 608.00,148.64 607.00,148.36 606.00,148.08 605.00,147.80 604.00,147.52 603.00,147.24 602.00,146.96 601.00,146.68 600.00,146.40 599.00,146.12 598.00,145.84 597.00,145.56 596.00,145.27 595.00,144.98 594.00,144.69 593.00,144.40 592.00,144.10 591.00,143.79 590.00,143.49 589.00,143.17 588.00,142.85 587.00,142.53 586.00,142.20 585.00,141.87 584.00,141.54 583.00,141.20 582.00,140.86 581.00,140.52 580.00,140.18 579.00,139.85 578.00,139.51 577.00,139.18 576.00,138.86 575.00,138.53 574.00,138.22 573.00,137.91 572.00,137.60 571.00,137.31 570.00,137.02 569.00,136.73 568.00,136.46 567.00,136.18 566.00,135.91 565.00,135.65 564.00,135.38 563.00,135.12 562.00,134.87 561.00,134.61 560.00,134.35 559.00,134.10 558.00,133.84 557.00,133.59 556.00,133.33 555.00,133.07 554.00,132.81 553.00,132.54 552.00,132.27 551.00,132.00 550.00,131.72 549.00,131.44 548.00,131.16 547.00,130.87 546.00,130.59 545.00,130.30 544.00,130.13 543.00,129.97 542.00,129.80 541.00,129.64 540.00,129.47 539.00,129.31 538.00,129.14 537.00,128.98 536.00,128.81 535.00,128.65 534.00,128.49 533.00,128.32 532.00,128.16 531.00,128.00 530.00,127.84 529.00,127.68 528.00,127.53 527.00,127.37 526.00,127.21 525.00,127.06 524.00,126.90 523.00,126.73 522.00,126.57 521.00,126.40 520.00,126.21 519.00,126.03 518.00,125.84 517.00,125.64 516.00,125.44 515.00,125.24 514.00,125.05 513.00,124.86 512.00,124.67 511.00,124.51 510.00,124.34 509.00,124.17 508.00,124.02 507.00,123.87 506.00,123.72 505.00,123.57 504.00,123.43 503.00,123.28 502.00,123.14 501.00,123.00 500.00,122.86 499.00,122.73 498.00,122.59 497.00,122.45 496.00,122.31 495.00,122.17 494.00,122.03 493.00,121.89 492.00,121.74 491.00,121.60 490.00,121.45 489.00,121.31 488.00,121.16 487.00,121.02 486.00,120.88 485.00,120.73 484.00,120.59 483.00,120.44 482.00,120.30 481.00,120.15 480.00,120.01 479.00,119.86 478.00,119.71 477.00,119.56 476.00,119.41 475.00,119.25 474.00,119.09 473.00,118.93 472.00,118.76 471.00,118.59 470.00,118.42 469.00,118.23 467.00,117.85 466.00,117.66 464.00,117.26 463.00,117.07 461.00,116.70 460.00,116.53 458.00,116.20 457.00,116.04 455.00,115.72 454.00,115.56 452.00,115.25 451.00,115.10 449.00,114.80 448.00,114.65 446.00,114.36 445.00,114.22 443.00,113.93 442.00,113.79 440.00,113.51 439.00,113.36 437.00,113.08 436.00,112.94 434.00,112.65 431.00,112.20 428.00,111.73 425.00,111.25 422.00,110.75 419.00,110.24 416.00,109.74 413.00,109.24 410.00,108.75 407.00,108.27 404.00,107.82 401.00,107.40 398.00,107.01 395.00,106.65 392.00,106.31 389.00,105.99 386.00,105.67 383.00,105.35 380.00,105.02 377.00,104.67 374.00,104.30 371.00,103.90 368.00,103.46 365.00,103.00 362.00,102.51 359.00,101.99 356.00,101.46 353.00,100.92 350.00,100.37 347.00,99.81 344.00,99.25 341.00,98.70 338.00,98.12 335.00,97.53 332.00,96.97 329.00,96.49 326.00,96.05 323.00,95.65 320.00,95.26 317.00,94.88 314.00,94.50 311.00,94.10 308.00,93.69 305.00,93.29 302.00,92.89 299.00,92.48 296.00,92.05 293.00,91.61 290.00,91.14 287.00,90.63 284.00,90.09 281.00,89.52 278.00,88.96 275.00,88.40 272.00,87.87 269.00,87.37 266.00,86.88 263.00,86.39 260.00,85.92 257.00,85.47 254.00,85.02 251.00,84.60 248.00,84.20 245.00,83.84 242.00,83.48 239.00,83.13 236.00,82.77 233.00,82.38 230.00,81.95 227.00,81.47 224.00,80.94 221.00,80.39 218.00,79.83 215.00,79.28 212.00,78.76 209.00,78.28 206.00,77.82 203.00,77.36 200.00,76.92 197.00,76.48 194.00,76.04 191.00,75.60 188.00,75.17 185.00,74.75 182.00,74.33 179.00,73.91 176.00,73.48 173.00,73.02 170.00,72.53 167.00,72.00 164.00,71.44 161.00,70.85 158.00,70.26 155.00,69.66 152.00,69.09 149.00,68.54 146.00,68.02 143.00,67.52 140.00,67.02 137.00,66.49 134.00,65.92 131.00,65.30 126.10,64.08 121.42,62.75 116.94,61.46 112.67,60.28 108.60,59.15 104.75,58.10 101.10,57.13 97.67,56.31 94.44,55.61 91.42,54.94 88.60,54.21 86.00,53.40 83.60,52.40 81.42,51.26 79.44,50.14 77.67,49.11 76.10,48.16 74.75,47.29 73.60,46.52 72.67,45.87 71.94,45.35 71.42,44.56 71.10,43.90 71.00,43.67" fill="#A48B6E"/>
<polygon points="71.00,43.67 71.10,43.75 71.42,43.97 71.94,44.35 72.67,44.87 73.60,45.52 74.75,46.29 76.10,47.16 77.67,48.11 79.44,49.14 81.42,50.26 83.60,51.40 86.00,52.40 88.60,53.21 91.42,53.94 94.44,54.61 97.67,55.31 101.10,56.13 104.75,57.10 108.60,58.15 112.67,59.28 116.94,60.46 121.42,61.75 126.10,63.08 131.00,64.30 134.00,64.92 137.00,65.49 140.00,66.02 143.00,66.52 146.00,67.02 149.00,67.54 152.00,68.09 155.00,68.66 158.00,69.26 161.00,69.85 164.00,70.44 167.00,71.00 170.00,71.53 173.00,72.02 176.00,72.48 179.00,72.91 182.00,73.33 185.00,73.75 188.00,74.17 191.00,74.60 194.00,75.04 197.00,75.48 200.00,75.92 203.00,76.36 206.00,76.82 209.00,77.28 212.00,77.76 215.00,78.28 218.00,78.83 221.00,79.39 224.00,79.94 227.00,80.47 230.00,80.95 233.00,81.38 236.00,81.77 239.00,82.13 242.00,82.48 245.00,82.84 248.00,83.20 251.00,83.60 254.00,84.02 257.00,84.47 260.00,84.92 263.00,85.39 266.00,85.88 269.00,86.37 272.00,86.87 275.00,87.40 278.00,87.96 281.00,88.52 284.00,89.09 287.00,89.63 290.00,90.14 293.00,90.61 296.00,91.05 299.00,91.48 302.00,91.89 305.00,92.29 308.00,92.69 311.00,93.10 314.00,93.50 317.00,93.88 320.00,94.26 323.00,94.65 326.00,95.05 329.00,95.49 332.00,95.97 335.00,96.53 338.00,97.12 341.00,97.70 344.00,98.25 347.00,98.81 350.00,99.37 353.00,99.92 356.00,100.46 359.00,100.99 362.00,101.51 365.00,102.00 368.00,102.46 371.00,102.90 374.00,103.30 377.00,103.67 380.00,104.02 383.00,104.35 386.00,104.67 389.00,104.99 392.00,105.31 395.00,105.65 398.00,106.01 401.00,106.40 404.00,106.82 407.00,107.27 410.00,107.75 413.00,108.24 416.00,108.74 419.00,109.24 422.00,109.75 425.00,110.25 428.00,110.73 431.00,111.20 434.00,111.65 436.00,111.94 437.00,112.08 439.00,112.36 440.00,112.51 442.00,112.79 443.00,112.93 445.00,113.22 446.00,113.36 448.00,113.65 449.00,113.80 451.00,114.10 452.00,114.25 454.00,114.56 455.00,114.72 457.00,115.04 458.00,115.20 460.00,115.53 461.00,115.70 463.00,116.07 464.00,116.26 466.00,116.66 467.00,116.85 469.00,117.23 470.00,117.42 471.00,117.59 472.00,117.76 473.00,117.93 474.00,118.09 475.00,118.25 476.00,118.41 477.00,118.56 478.00,118.71 479.00,118.86 480.00,119.01 481.00,119.15 482.00,119.30 483.00,119.44 484.00,119.59 485.00,119.73 486.00,119.88 487.00,120.02 488.00,120.16 489.00,120.31 490.00,120.45 491.00,120.60 492.00,120.74 493.00,120.89 494.00,121.03 495.00,121.17 496.00,121.31 497.00,121.45 498.00,121.59 499.00,121.73 500.00,121.86 501.00,122.00 502.00,122.14 503.00,122.28 504.00,122.43 505.00,122.57 506.00,122.72 507.00,122.87 508.00,123.02 509.00,123.17 510.00,123.34 511.00,123.51 512.00,123.67 513.00,123.86 514.00,124.05 515.00,124.24 516.00,124.44 517.00,124.64 518.00,124.84 519.00,125.03 520.00,125.21 521.00,125.40 522.00,125.57 523.00,125.73 524.00,125.90 525.00,126.06 526.00,126.21 527.00,126.37 528.00,126.53 529.00,126.68 530.00,126.84 531.00,127.00 532.00,127.16 533.00,127.32 534.00,127.49 535.00,127.65 536.00,127.81 537.00,127.98 538.00,128.14 539.00,128.31 540.00,128.47 541.00,128.64 542.00,128.80 543.00,128.97 544.00,129.13 545.00,129.30 546.00,129.59 547.00,129.87 548.00,130.16 549.00,130.44 550.00,130.72 551.00,131.00 552.00,131.27 553.00,131.54 554.00,131.81 555.00,132.07 556.00,132.33 557.00,132.59 558.00,132.84 559.00,133.10 560.00,133.35 561.00,133.61 562.00,133.87 563.00,134.12 564.00,134.38 565.00,134.65 566.00,134.91 567.00,135.18 568.00,135.46 569.00,135.73 570.00,136.02 571.00,136.31 572.00,136.60 573.00,136.91 574.00,137.22 575.00,137.53 576.00,137.86 577.00,138.18 578.00,138.51 579.00,138.85 580.00,139.18 581.00,139.52 582.00,139.86 583.00,140.20 584.00,140.54 585.00,140.87 586.00,141.20 587.00,141.53 588.00,141.85 589.00,142.17 590.00,142.49 591.00,142.79 592.00,143.10 593.00,143.40 594.00,143.69 595.00,143.98 596.00,144.27 597.00,144.56 598.00,144.84 599.00,145.12 600.00,145.40 601.00,145.68 602.00,145.96 603.00,146.24 604.00,146.52 605.00,146.80 606.00,147.08 607.00,147.36 608.00,147.64 609.00,147.93 610.00,148.21 611.00,148.50 612.00,148.79 613.00,149.08 614.00,149.36 615.00,149.65 616.00,149.94 617.00,150.22 618.00,150.51 619.00,150.80 620.00,151.09 621.00,151.38 622.00,151.67 623.00,151.96 624.00,152.26 625.00,152.55 626.00,152.85 627.00,153.16 628.00,153.46 629.00,153.77 630.00,154.09 631.00,154.41 632.00,154.72 633.00,155.07 634.00,155.41 635.00,155.75 636.00,156.11 637.00,156.47 638.00,156.82 639.00,157.19 640.00,157.56 641.00,157.92 642.00,158.29 643.00,158.65 644.00,159.02 645.00,159.37 646.00,159.73 647.00,160.08 648.00,160.41 649.00,160.75 650.00,161.08 651.00,161.39 652.00,161.71 653.00,162.02 654.00,162.32 655.00,162.62 656.00,162.92 657.00,163.21 658.00,163.50 659.00,163.80 660.00,164.08 661.00,164.36 662.00,164.64 663.00,164.92 664.00,165.19 665.00,165.46 666.00,165.72 667.00,165.99 668.00,166.25 669.00,166.50 670.00,166.75 671.00,167.00 671.00,196.70 670.00,196.33 669.00,195.96 668.00,195.59 667.00,195.23 666.00,194.86 665.00,194.50 664.00,194.14 663.00,193.77 662.00,193.42 661.00,193.06 660.00,192.71 659.00,192.36 658.00,192.00 657.00,191.65 656.00,191.31 655.00,190.96 654.00,190.62 653.00,190.28 652.00,189.94 651.00,189.60 650.00,189.27 649.00,188.94 648.00,188.61 647.00,188.28 646.00,187.96 645.00,187.64 644.00,187.32 643.00,187.01 642.00,186.69 641.00,186.38 640.00,186.06 639.00,185.75 638.00,185.43 637.00,185.12 636.00,184.81 635.00,184.49 634.00,184.17 633.00,183.85 632.00,183.52 631.00,183.20 630.00,182.87 629.00,182.54 628.00,182.21 627.00,181.88 626.00,181.55 625.00,181.21 624.00,180.88 623.00,180.54 622.00,180.21 621.00,179.87 620.00,179.53 619.00,179.19 618.00,178.86 617.00,178.52 616.00,178.18 615.00,177.84 614.00,177.51 613.00,177.17 612.00,176.84 611.00,176.50 610.00,176.17 609.00,175.83 608.00,175.50 607.00,175.16 606.00,174.83 605.00,174.49 604.00,174.16 603.00,173.82 602.00,173.49 601.00,173.16 600.00,172.82 599.00,172.49 598.00,172.15 597.00,171.82 596.00,171.48 595.00,171.15 594.00,170.81 593.00,170.47 592.00,170.14 591.00,169.80 590.00,169.46 589.00,169.13 588.00,168.79 587.00,168.45 586.00,168.12 585.00,167.78 584.00,167.44 583.00,167.11 582.00,166.77 581.00,166.43 580.00,166.09 579.00,165.75 578.00,165.41 577.00,165.07 576.00,164.73 575.00,164.39 574.00,164.04 573.00,163.70 572.00,163.35 571.00,163.00 570.00,162.65 569.00,162.29 568.00,161.94 567.00,161.58 566.00,161.22 565.00,160.86 564.00,160.49 563.00,160.13 562.00,159.76 561.00,159.40 560.00,159.04 559.00,158.67 558.00,158.31 557.00,157.94 556.00,157.58 555.00,157.22 554.00,156.86 553.00,156.51 552.00,156.15 551.00,155.80 550.00,155.45 549.00,155.11 548.00,154.76 547.00,154.42 546.00,154.08 545.00,153.74 544.00,153.40 543.00,153.06 542.00,152.72 541.00,152.39 540.00,152.05 539.00,151.72 538.00,151.38 537.00,151.04 536.00,150.70 535.00,150.37 534.00,150.03 533.00,149.68 532.00,149.34 531.00,149.00 530.00,148.65 529.00,148.31 528.00,147.96 527.00,147.61 526.00,147.26 525.00,146.91 524.00,146.55 523.00,146.20 522.00,145.85 521.00,145.49 520.00,145.14 519.00,144.79 518.00,144.44 517.00,144.08 516.00,143.73 515.00,143.38 514.00,143.04 513.00,142.69 512.00,142.35 511.00,142.00 510.00,141.66 509.00,141.32 508.00,140.98 507.00,140.64 506.00,140.30 505.00,139.96 504.00,139.63 503.00,139.29 502.00,138.95 501.00,138.62 500.00,138.29 499.00,137.95 498.00,137.62 497.00,137.29 496.00,136.95 495.00,136.62 494.00,136.29 493.00,135.96 492.00,135.63 491.00,135.30 490.00,134.97 489.00,134.64 488.00,134.31 487.00,133.98 486.00,133.66 485.00,133.33 484.00,133.00 483.00,132.68 482.00,132.35 481.00,132.03 480.00,131.70 479.00,131.38 478.00,131.05 477.00,130.73 476.00,130.41 475.00,130.08 474.00,129.76 473.00,129.44 472.00,129.12 471.00,128.80 470.00,128.61 469.00,128.43 467.00,128.06 466.00,127.88 464.00,127.52 463.00,127.35 461.00,127.00 460.00,126.84 458.00,126.51 457.00,126.36 455.00,126.04 454.00,125.88 452.00,125.57 451.00,125.40 449.00,125.06 448.00,124.88 446.00,124.53 445.00,124.36 443.00,124.00 442.00,123.81 440.00,123.45 439.00,123.27 437.00,122.90 436.00,122.72 434.00,122.35 431.00,121.80 428.00,121.25 425.00,120.70 422.00,120.14 419.00,119.58 416.00,119.02 413.00,118.46 410.00,117.91 407.00,117.36 404.00,116.82 401.00,116.30 398.00,115.79 395.00,115.29 392.00,114.81 389.00,114.33 386.00,113.85 383.00,113.37 380.00,112.89 377.00,112.41 374.00,111.91 371.00,111.40 368.00,110.88 365.00,110.34 362.00,109.79 359.00,109.24 356.00,108.68 353.00,108.12 350.00,107.56 347.00,107.00 344.00,106.45 341.00,105.90 338.00,105.35 335.00,104.80 332.00,104.27 329.00,103.78 326.00,103.31 323.00,102.87 320.00,102.43 317.00,101.99 314.00,101.55 311.00,101.10 308.00,100.64 305.00,100.17 302.00,99.70 299.00,99.22 296.00,98.74 293.00,98.24 290.00,97.73 287.00,97.19 284.00,96.63 281.00,96.06 278.00,95.49 275.00,94.93 272.00,94.38 269.00,93.85 266.00,93.32 263.00,92.80 260.00,92.29 257.00,91.78 254.00,91.28 251.00,90.80 248.00,90.33 245.00,89.89 242.00,89.45 239.00,89.02 236.00,88.57 233.00,88.12 230.00,87.64 227.00,87.13 224.00,86.61 221.00,86.07 218.00,85.53 215.00,85.00 212.00,84.47 209.00,83.96 206.00,83.45 203.00,82.93 200.00,82.43 197.00,81.94 194.00,81.46 191.00,81.00 188.00,80.58 185.00,80.18 182.00,79.80 179.00,79.42 176.00,79.03 173.00,78.61 170.00,78.14 167.00,77.62 164.00,77.07 161.00,76.48 158.00,75.87 155.00,75.24 152.00,74.61 149.00,73.97 146.00,73.31 143.00,72.64 140.00,71.94 137.00,71.24 134.00,70.52 131.00,69.80 126.10,68.63 121.42,67.48 116.94,66.27 112.67,64.92 108.60,63.44 104.75,61.97 101.10,60.64 97.67,59.52 94.44,58.55 91.42,57.60 88.60,56.60 86.00,55.50 83.60,54.27 81.42,52.95 79.44,51.61 77.67,50.30 76.10,49.08 74.75,47.96 73.60,46.99 72.67,46.17 71.94,45.52 71.42,44.56 71.10,43.90 71.00,43.67" fill="#4AC3F0"/>
<polygon points="71.00,43.67 71.10,43.76 71.42,44.05 71.94,44.52 72.67,45.17 73.60,45.99 74.75,46.96 76.10,48.08 77.67,49.30 79.44,50.61 81.42,51.95 83.60,53.27 86.00,54.50 88.60,55.60 91.42,56.60 94.44,57.55 97.67,58.52 101.10,59.64 104.75,60.97 108.60,62.44 112.67,63.92 116.94,65.27 121.42,66.48 126.10,67.63 131.00,68.80 134.00,69.52 137.00,70.24 140.00,70.94 143.00,71.64 146.00,72.31 149.00,72.97 152.00,73.61 155.00,74.24 158.00,74.87 161.00,75.48 164.00,76.07 167.00,76.62 170.00,77.14 173.00,77.61 176.00,78.03 179.00,78.42 182.00,78.80 185.00,79.18 188.00,79.58 191.00,80.00 194.00,80.46 197.00,80.94 200.00,81.43 203.00,81.93 206.00,82.45 209.00,82.96 212.00,83.47 215.00,84.00 218.00,84.53 221.00,85.07 224.00,85.61 227.00,86.13 230.00,86.64 233.00,87.12 236.00,87.57 239.00,88.02 242.00,88.45 245.00,88.89 248.00,89.33 251.00,89.80 254.00,90.28 257.00,90.78 260.00,91.29 263.00,91.80 266.00,92.32 269.00,92.85 272.00,93.38 275.00,93.93 278.00,94.49 281.00,95.06 284.00,95.63 287.00,96.19 290.00,96.73 293.00,97.24 296.00,97.74 299.00,98.22 302.00,98.70 305.00,99.17 308.00,99.64 311.00,100.10 314.00,100.55 317.00,100.99 320.00,101.43 323.00,101.87 326.00,102.31 329.00,102.78 332.00,103.27 335.00,103.80 338.00,104.35 341.00,104.90 344.00,105.45 347.00,106.00 350.00,106.56 353.00,107.12 356.00,107.68 359.00,108.24 362.00,108.79 365.00,109.34 368.00,109.88 371.00,110.40 374.00,110.91 377.00,111.41 380.00,111.89 383.00,112.37 386.00,112.85 389.00,113.33 392.00,113.81 395.00,114.29 398.00,114.79 401.00,115.30 404.00,115.82 407.00,116.36 410.00,116.91 413.00,117.46 416.00,118.02 419.00,118.58 422.00,119.14 425.00,119.70 428.00,120.25 431.00,120.80 434.00,121.35 436.00,121.72 437.00,121.90 439.00,122.27 440.00,122.45 442.00,122.81 443.00,123.00 445.00,123.36 446.00,123.53 448.00,123.88 449.00,124.06 451.00,124.40 452.00,124.57 454.00,124.88 455.00,125.04 457.00,125.36 458.00,125.51 460.00,125.84 461.00,126.00 463.00,126.35 464.00,126.52 466.00,126.88 467.00,127.06 469.00,127.43 470.00,127.61 471.00,127.80 472.00,128.12 473.00,128.44 474.00,128.76 475.00,129.08 476.00,129.41 477.00,129.73 478.00,130.05 479.00,130.38 480.00,130.70 481.00,131.03 482.00,131.35 483.00,131.68 484.00,132.00 485.00,132.33 486.00,132.66 487.00,132.98 488.00,133.31 489.00,133.64 490.00,133.97 491.00,134.30 492.00,134.63 493.00,134.96 494.00,135.29 495.00,135.62 496.00,135.95 497.00,136.29 498.00,136.62 499.00,136.95 500.00,137.29 501.00,137.62 502.00,137.95 503.00,138.29 504.00,138.63 505.00,138.96 506.00,139.30 507.00,139.64 508.00,139.98 509.00,140.32 510.00,140.66 511.00,141.00 512.00,141.35 513.00,141.69 514.00,142.04 515.00,142.38 516.00,142.73 517.00,143.08 518.00,143.44 519.00,143.79 520.00,144.14 521.00,144.49 522.00,144.85 523.00,145.20 524.00,145.55 525.00,145.91 526.00,146.26 527.00,146.61 528.00,146.96 529.00,147.31 530.00,147.65 531.00,148.00 532.00,148.34 533.00,148.68 534.00,149.03 535.00,149.37 536.00,149.70 537.00,150.04 538.00,150.38 539.00,150.72 540.00,151.05 541.00,151.39 542.00,151.72 543.00,152.06 544.00,152.40 545.00,152.74 546.00,153.08 547.00,153.42 548.00,153.76 549.00,154.11 550.00,154.45 551.00,154.80 552.00,155.15 553.00,155.51 554.00,155.86 555.00,156.22 556.00,156.58 557.00,156.94 558.00,157.31 559.00,157.67 560.00,158.04 561.00,158.40 562.00,158.76 563.00,159.13 564.00,159.49 565.00,159.86 566.00,160.22 567.00,160.58 568.00,160.94 569.00,161.29 570.00,161.65 571.00,162.00 572.00,162.35 573.00,162.70 574.00,163.04 575.00,163.39 576.00,163.73 577.00,164.07 578.00,164.41 579.00,164.75 580.00,165.09 581.00,165.43 582.00,165.77 583.00,166.11 584.00,166.44 585.00,166.78 586.00,167.12 587.00,167.45 588.00,167.79 589.00,168.13 590.00,168.46 591.00,168.80 592.00,169.14 593.00,169.47 594.00,169.81 595.00,170.15 596.00,170.48 597.00,170.82 598.00,171.15 599.00,171.49 600.00,171.82 601.00,172.16 602.00,172.49 603.00,172.82 604.00,173.16 605.00,173.49 606.00,173.83 607.00,174.16 608.00,174.50 609.00,174.83 610.00,175.17 611.00,175.50 612.00,175.84 613.00,176.17 614.00,176.51 615.00,176.84 616.00,177.18 617.00,177.52 618.00,177.86 619.00,178.19 620.00,178.53 621.00,178.87 622.00,179.21 623.00,179.54 624.00,179.88 625.00,180.21 626.00,180.55 627.00,180.88 628.00,181.21 629.00,181.54 630.00,181.87 631.00,182.20 632.00,182.52 633.00,182.85 634.00,183.17 635.00,183.49 636.00,183.81 637.00,184.12 638.00,184.43 639.00,184.75 640.00,185.06 641.00,185.38 642.00,185.69 643.00,186.01 644.00,186.32 645.00,186.64 646.00,186.96 647.00,187.28 648.00,187.61 649.00,187.94 650.00,188.27 651.00,188.60 652.00,188.94 653.00,189.28 654.00,189.62 655.00,189.96 656.00,190.31 657.00,190.65 658.00,191.00 659.00,191.36 660.00,191.71 661.00,192.06 662.00,192.42 663.00,192.77 664.00,193.14 665.00,193.50 666.00,193.86 667.00,194.23 668.00,194.59 669.00,194.96 670.00,195.33 671.00,195.70 671.00,216.20 670.00,215.80 669.00,215.40 668.00,215.00 667.00,214.60 666.00,214.21 665.00,213.82 664.00,213.42 663.00,213.04 662.00,212.65 661.00,212.26 660.00,211.88 659.00,211.50 658.00,211.11 657.00,210.74 656.00,210.36 655.00,209.98 654.00,209.61 653.00,209.24 652.00,208.87 651.00,208.50 650.00,208.14 649.00,207.77 648.00,207.42 647.00,207.06 646.00,206.71 645.00,206.36 644.00,206.01 643.00,205.66 642.00,205.31 641.00,204.97 640.00,204.62 639.00,204.28 638.00,203.93 637.00,203.59 636.00,203.24 635.00,202.89 634.00,202.55 633.00,202.20 632.00,201.85 631.00,201.50 630.00,201.15 629.00,200.79 628.00,200.44 627.00,200.09 626.00,199.73 625.00,199.38 624.00,199.03 623.00,198.67 622.00,198.32 621.00,197.96 620.00,197.61 619.00,197.25 618.00,196.90 617.00,196.54 616.00,196.18 615.00,195.83 614.00,195.47 613.00,195.11 612.00,194.76 611.00,194.40 610.00,194.04 609.00,193.68 608.00,193.33 607.00,192.97 606.00,192.61 605.00,192.25 604.00,191.90 603.00,191.54 602.00,191.18 601.00,190.82 600.00,190.46 599.00,190.10 598.00,189.74 597.00,189.38 596.00,189.02 595.00,188.65 594.00,188.29 593.00,187.93 592.00,187.56 591.00,187.20 590.00,186.83 589.00,186.47 588.00,186.10 587.00,185.74 586.00,185.37 585.00,185.00 584.00,184.63 583.00,184.26 582.00,183.89 581.00,183.52 580.00,183.15 579.00,182.78 578.00,182.41 577.00,182.04 576.00,181.67 575.00,181.30 574.00,180.92 573.00,180.55 572.00,180.17 571.00,179.80 570.00,179.42 569.00,179.05 568.00,178.67 567.00,178.29 566.00,177.91 565.00,177.53 564.00,177.15 563.00,176.77 562.00,176.39 561.00,176.01 560.00,175.63 559.00,175.25 558.00,174.87 557.00,174.49 556.00,174.10 555.00,173.72 554.00,173.34 553.00,172.96 552.00,172.58 551.00,172.20 550.00,171.82 549.00,171.44 548.00,171.06 547.00,170.68 546.00,170.30 545.00,169.92 544.00,169.54 543.00,169.16 542.00,168.78 541.00,168.40 540.00,168.02 539.00,167.64 538.00,167.26 537.00,166.88 536.00,166.50 535.00,166.12 534.00,165.74 533.00,165.36 532.00,164.98 531.00,164.60 530.00,164.22 529.00,163.84 528.00,163.46 527.00,163.07 526.00,162.69 525.00,162.31 524.00,161.92 523.00,161.54 522.00,161.16 521.00,160.77 520.00,160.39 519.00,160.01 518.00,159.63 517.00,159.25 516.00,158.87 515.00,158.50 514.00,158.12 513.00,157.75 512.00,157.37 511.00,157.00 510.00,156.64 509.00,156.27 508.00,155.91 507.00,155.55 506.00,155.20 505.00,154.84 504.00,154.49 503.00,154.14 502.00,153.79 501.00,153.44 500.00,153.09 499.00,152.73 498.00,152.38 497.00,152.02 496.00,151.66 495.00,151.30 494.00,150.93 493.00,150.56 492.00,150.18 491.00,149.79 490.00,149.41 489.00,149.00 488.00,148.59 487.00,148.18 486.00,147.75 485.00,147.33 484.00,146.90 483.00,146.46 482.00,146.03 481.00,145.59 480.00,145.16 479.00,144.73 478.00,144.30 477.00,143.88 476.00,143.46 475.00,143.05 474.00,142.65 473.00,142.26 472.00,141.87 471.00,141.51 470.00,141.15 469.00,140.79 467.00,140.12 466.00,139.78 464.00,139.14 463.00,138.82 461.00,138.21 460.00,137.90 458.00,137.32 457.00,137.04 455.00,136.48 454.00,136.20 452.00,135.60 451.00,135.30 449.00,134.65 448.00,134.33 446.00,133.65 445.00,133.31 443.00,132.61 442.00,132.26 440.00,131.52 439.00,131.15 437.00,130.38 436.00,130.00 434.00,129.60 431.00,129.00 428.00,128.42 425.00,127.85 422.00,127.28 419.00,126.73 416.00,126.17 413.00,125.62 410.00,125.06 407.00,124.51 404.00,123.96 401.00,123.40 398.00,122.84 395.00,122.29 392.00,121.73 389.00,121.18 386.00,120.63 383.00,120.07 380.00,119.51 377.00,118.95 374.00,118.38 371.00,117.80 368.00,117.21 365.00,116.61 362.00,116.00 359.00,115.40 356.00,114.79 353.00,114.19 350.00,113.61 347.00,113.04 344.00,112.47 341.00,111.90 338.00,111.31 335.00,110.70 332.00,110.10 329.00,109.50 326.00,108.91 323.00,108.32 320.00,107.73 317.00,107.15 314.00,106.57 311.00,106.00 308.00,105.44 305.00,104.89 302.00,104.34 299.00,103.80 296.00,103.25 293.00,102.68 290.00,102.10 287.00,101.50 284.00,100.87 281.00,100.24 278.00,99.61 275.00,98.99 272.00,98.39 269.00,97.82 266.00,97.26 263.00,96.72 260.00,96.18 257.00,95.65 254.00,95.12 251.00,94.60 248.00,94.08 245.00,93.58 242.00,93.09 239.00,92.59 236.00,92.08 233.00,91.56 230.00,91.01 227.00,90.43 224.00,89.83 221.00,89.21 218.00,88.59 215.00,87.98 212.00,87.39 209.00,86.82 206.00,86.27 203.00,85.72 200.00,85.18 197.00,84.65 194.00,84.12 191.00,83.60 188.00,83.10 185.00,82.61 182.00,82.14 179.00,81.66 176.00,81.17 173.00,80.66 170.00,80.12 167.00,79.55 164.00,78.96 161.00,78.35 158.00,77.72 155.00,77.08 152.00,76.42 149.00,75.76 146.00,75.09 143.00,74.41 140.00,73.71 137.00,72.99 134.00,72.22 131.00,71.40 126.10,69.90 121.42,68.30 116.94,66.73 112.67,65.23 108.60,63.75 104.75,62.35 101.10,61.04 97.67,59.89 94.44,58.87 91.42,57.89 88.60,56.86 86.00,55.75 83.60,54.49 81.42,53.13 79.44,51.77 77.67,50.49 76.10,49.26 74.75,48.13 73.60,47.12 72.67,46.26 71.94,45.57 71.42,44.56 71.10,43.90 71.00,43.67" fill="#4BA2D1"/>
<polygon points="71.00,43.67 71.10,43.77 71.42,44.07 71.94,44.57 72.67,45.26 73.60,46.12 74.75,47.13 76.10,48.26 77.67,49.49 79.44,50.77 81.42,52.13 83.60,53.49 86.00,54.75 88.60,55.86 91.42,56.89 94.44,57.87 97.67,58.89 101.10,60.04 104.75,61.35 108.60,62.75 112.67,64.23 116.94,65.73 121.42,67.30 126.10,68.90 131.00,70.40 134.00,71.22 137.00,71.99 140.00,72.71 143.00,73.41 146.00,74.09 149.00,74.76 152.00,75.42 155.00,76.08 158.00,76.72 161.00,77.35 164.00,77.96 167.00,78.55 170.00,79.12 173.00,79.66 176.00,80.17 179.00,80.66 182.00,81.14 185.00,81.61 188.00,82.10 191.00,82.60 194.00,83.12 197.00,83.65 200.00,84.18 203.00,84.72 206.00,85.27 209.00,85.82 212.00,86.39 215.00,86.98 218.00,87.59 221.00,88.21 224.00,88.83 227.00,89.43 230.00,90.01 233.00,90.56 236.00,91.08 239.00,91.59 242.00,92.09 245.00,92.58 248.00,93.08 251.00,93.60 254.00,94.12 257.00,94.65 260.00,95.18 263.00,95.72 266.00,96.26 269.00,96.82 272.00,97.39 275.00,97.99 278.00,98.61 281.00,99.24 284.00,99.87 287.00,100.50 290.00,101.10 293.00,101.68 296.00,102.25 299.00,102.80 302.00,103.34 305.00,103.89 308.00,104.44 311.00,105.00 314.00,105.57 317.00,106.15 320.00,106.73 323.00,107.32 326.00,107.91 329.00,108.50 332.00,109.10 335.00,109.70 338.00,110.31 341.00,110.90 344.00,111.47 347.00,112.04 350.00,112.61 353.00,113.19 356.00,113.79 359.00,114.40 362.00,115.00 365.00,115.61 368.00,116.21 371.00,116.80 374.00,117.38 377.00,117.95 380.00,118.51 383.00,119.07 386.00,119.63 389.00,120.18 392.00,120.73 395.00,121.29 398.00,121.84 401.00,122.40 404.00,122.96 407.00,123.51 410.00,124.06 413.00,124.62 416.00,125.17 419.00,125.73 422.00,126.28 425.00,126.85 428.00,127.42 431.00,128.00 434.00,128.60 436.00,129.00 437.00,129.38 439.00,130.15 440.00,130.52 442.00,131.26 443.00,131.61 445.00,132.31 446.00,132.65 448.00,133.33 449.00,133.65 451.00,134.30 452.00,134.60 454.00,135.20 455.00,135.48 457.00,136.04 458.00,136.32 460.00,136.90 461.00,137.21 463.00,137.82 464.00,138.14 466.00,138.78 467.00,139.12 469.00,139.79 470.00,140.15 471.00,140.51 472.00,140.87 473.00,141.26 474.00,141.65 475.00,142.05 476.00,142.46 477.00,142.88 478.00,143.30 479.00,143.73 480.00,144.16 481.00,144.59 482.00,145.03 483.00,145.46 484.00,145.90 485.00,146.33 486.00,146.75 487.00,147.18 488.00,147.59 489.00,148.00 490.00,148.41 491.00,148.79 492.00,149.18 493.00,149.56 494.00,149.93 495.00,150.30 496.00,150.66 497.00,151.02 498.00,151.38 499.00,151.73 500.00,152.09 501.00,152.44 502.00,152.79 503.00,153.14 504.00,153.49 505.00,153.84 506.00,154.20 507.00,154.55 508.00,154.91 509.00,155.27 510.00,155.64 511.00,156.00 512.00,156.37 513.00,156.75 514.00,157.12 515.00,157.50 516.00,157.87 517.00,158.25 518.00,158.63 519.00,159.01 520.00,159.39 521.00,159.77 522.00,160.16 523.00,160.54 524.00,160.92 525.00,161.31 526.00,161.69 527.00,162.07 528.00,162.46 529.00,162.84 530.00,163.22 531.00,163.60 532.00,163.98 533.00,164.36 534.00,164.74 535.00,165.12 536.00,165.50 537.00,165.88 538.00,166.26 539.00,166.64 540.00,167.02 541.00,167.40 542.00,167.78 543.00,168.16 544.00,168.54 545.00,168.92 546.00,169.30 547.00,169.68 548.00,170.06 549.00,170.44 550.00,170.82 551.00,171.20 552.00,171.58 553.00,171.96 554.00,172.34 555.00,172.72 556.00,173.10 557.00,173.49 558.00,173.87 559.00,174.25 560.00,174.63 561.00,175.01 562.00,175.39 563.00,175.77 564.00,176.15 565.00,176.53 566.00,176.91 567.00,177.29 568.00,177.67 569.00,178.05 570.00,178.42 571.00,178.80 572.00,179.17 573.00,179.55 574.00,179.92 575.00,180.30 576.00,180.67 577.00,181.04 578.00,181.41 579.00,181.78 580.00,182.15 581.00,182.52 582.00,182.89 583.00,183.26 584.00,183.63 585.00,184.00 586.00,184.37 587.00,184.74 588.00,185.10 589.00,185.47 590.00,185.83 591.00,186.20 592.00,186.56 593.00,186.93 594.00,187.29 595.00,187.65 596.00,188.02 597.00,188.38 598.00,188.74 599.00,189.10 600.00,189.46 601.00,189.82 602.00,190.18 603.00,190.54 604.00,190.90 605.00,191.25 606.00,191.61 607.00,191.97 608.00,192.33 609.00,192.68 610.00,193.04 611.00,193.40 612.00,193.76 613.00,194.11 614.00,194.47 615.00,194.83 616.00,195.18 617.00,195.54 618.00,195.90 619.00,196.25 620.00,196.61 621.00,196.96 622.00,197.32 623.00,197.67 624.00,198.03 625.00,198.38 626.00,198.73 627.00,199.09 628.00,199.44 629.00,199.79 630.00,200.15 631.00,200.50 632.00,200.85 633.00,201.20 634.00,201.55 635.00,201.89 636.00,202.24 637.00,202.59 638.00,202.93 639.00,203.28 640.00,203.62 641.00,203.97 642.00,204.31 643.00,204.66 644.00,205.01 645.00,205.36 646.00,205.71 647.00,206.06 648.00,206.42 649.00,206.77 650.00,207.14 651.00,207.50 652.00,207.87 653.00,208.24 654.00,208.61 655.00,208.98 656.00,209.36 657.00,209.74 658.00,210.11 659.00,210.50 660.00,210.88 661.00,211.26 662.00,211.65 663.00,212.04 664.00,212.42 665.00,212.82 666.00,213.21 667.00,213.60 668.00,214.00 669.00,214.40 670.00,214.80 671.00,215.20 671.00,286.40 670.00,285.90 669.00,285.41 668.00,284.91 667.00,284.42 666.00,283.93 665.00,283.43 664.00,282.95 663.00,282.46 662.00,281.98 661.00,281.50 660.00,281.02 659.00,280.54 658.00,280.07 657.00,279.60 656.00,279.12 655.00,278.66 654.00,278.19 653.00,277.72 652.00,277.26 651.00,276.80 650.00,276.34 649.00,275.90 648.00,275.45 647.00,275.00 646.00,274.56 645.00,274.13 644.00,273.69 643.00,273.26 642.00,272.83 641.00,272.39 640.00,271.96 639.00,271.53 638.00,271.10 637.00,270.66 636.00,270.23 635.00,269.79 634.00,269.35 633.00,268.90 632.00,268.45 631.00,268.00 630.00,267.54 629.00,267.08 628.00,266.61 627.00,266.14 626.00,265.67 625.00,265.19 624.00,264.71 623.00,264.23 622.00,263.75 621.00,263.27 620.00,262.79 619.00,262.31 618.00,261.82 617.00,261.34 616.00,260.87 615.00,260.39 614.00,259.91 613.00,259.44 612.00,258.97 611.00,258.50 610.00,258.04 609.00,257.58 608.00,257.12 607.00,256.66 606.00,256.21 605.00,255.75 604.00,255.30 603.00,254.85 602.00,254.39 601.00,253.94 600.00,253.49 599.00,253.04 598.00,252.59 597.00,252.14 596.00,251.69 595.00,251.23 594.00,250.78 593.00,250.32 592.00,249.86 591.00,249.40 590.00,248.94 589.00,248.47 588.00,248.00 587.00,247.53 586.00,247.06 585.00,246.59 584.00,246.12 583.00,245.64 582.00,245.17 581.00,244.69 580.00,244.22 579.00,243.75 578.00,243.27 577.00,242.80 576.00,242.33 575.00,241.86 574.00,241.39 573.00,240.93 572.00,240.46 571.00,240.00 570.00,239.54 569.00,239.09 568.00,238.64 567.00,238.18 566.00,237.73 565.00,237.29 564.00,236.84 563.00,236.40 562.00,235.95 561.00,235.51 560.00,235.06 559.00,234.62 558.00,234.17 557.00,233.72 556.00,233.27 555.00,232.82 554.00,232.37 553.00,231.92 552.00,231.46 551.00,231.00 550.00,230.53 549.00,230.07 548.00,229.60 547.00,229.13 546.00,228.65 545.00,228.18 544.00,227.70 543.00,227.23 542.00,226.75 541.00,226.27 540.00,225.79 539.00,225.31 538.00,224.83 537.00,224.35 536.00,223.87 535.00,223.40 534.00,222.92 533.00,222.44 532.00,221.97 531.00,221.50 530.00,221.03 529.00,220.56 528.00,220.09 527.00,219.62 526.00,219.15 525.00,218.68 524.00,218.21 523.00,217.74 522.00,217.27 521.00,216.81 520.00,216.34 519.00,215.87 518.00,215.41 517.00,214.95 516.00,214.49 515.00,214.02 514.00,213.57 513.00,213.11 512.00,212.65 511.00,212.20 510.00,211.75 509.00,211.30 508.00,210.86 507.00,210.42 506.00,209.98 505.00,209.55 504.00,209.12 503.00,208.68 502.00,208.25 501.00,207.82 500.00,207.39 499.00,206.95 498.00,206.52 497.00,206.08 496.00,205.64 495.00,205.20 494.00,204.76 493.00,204.30 492.00,203.85 491.00,203.40 490.00,202.94 489.00,202.47 488.00,202.01 487.00,201.53 486.00,201.06 485.00,200.58 484.00,200.10 483.00,199.62 482.00,199.14 481.00,198.65 480.00,198.17 479.00,197.68 478.00,197.19 477.00,196.71 476.00,196.22 475.00,195.73 474.00,195.25 473.00,194.76 472.00,194.28 471.00,193.80 470.00,193.32 469.00,192.84 467.00,191.89 466.00,191.41 464.00,190.45 463.00,189.97 461.00,189.00 460.00,188.50 458.00,187.51 457.00,187.00 455.00,185.99 454.00,185.49 452.00,184.49 451.00,184.00 449.00,183.03 448.00,182.55 446.00,181.59 445.00,181.11 443.00,180.16 442.00,179.69 440.00,178.75 439.00,178.28 437.00,177.34 436.00,176.86 434.00,175.92 431.00,174.50 428.00,173.07 425.00,171.63 422.00,170.20 419.00,168.76 416.00,167.32 413.00,165.88 410.00,164.45 407.00,163.02 404.00,161.61 401.00,160.20 398.00,158.81 395.00,157.43 392.00,156.06 389.00,154.68 386.00,153.31 383.00,151.94 380.00,150.57 377.00,149.19 374.00,147.80 371.00,146.40 368.00,144.99 365.00,143.57 362.00,142.14 359.00,140.70 356.00,139.25 353.00,137.78 350.00,136.31 347.00,134.81 344.00,133.31 341.00,131.78 338.00,130.25 335.00,128.70 332.00,127.86 329.00,127.12 326.00,126.46 323.00,125.83 320.00,125.23 317.00,124.64 314.00,124.03 311.00,123.40 308.00,122.75 305.00,122.10 302.00,121.44 299.00,120.77 296.00,120.08 293.00,119.38 290.00,118.65 287.00,117.89 284.00,117.09 281.00,116.28 278.00,115.46 275.00,114.65 272.00,113.86 269.00,113.09 266.00,112.34 263.00,111.60 260.00,110.86 257.00,110.14 254.00,109.41 251.00,108.70 248.00,108.00 245.00,107.30 242.00,106.62 239.00,105.93 236.00,105.25 233.00,104.56 230.00,103.87 227.00,103.17 224.00,102.48 221.00,101.79 218.00,101.08 215.00,100.37 212.00,99.65 209.00,98.90 206.00,98.13 203.00,97.34 200.00,96.55 197.00,95.75 194.00,94.97 191.00,94.20 188.00,93.46 185.00,92.73 182.00,92.02 179.00,91.31 176.00,90.58 173.00,89.82 170.00,89.03 167.00,88.21 164.00,87.35 161.00,86.48 158.00,85.59 155.00,84.69 152.00,83.80 149.00,82.91 146.00,82.01 143.00,81.11 140.00,80.20 137.00,79.28 134.00,78.35 131.00,77.40 126.10,75.85 121.42,74.32 116.94,72.75 112.67,71.05 108.60,69.25 104.75,67.49 101.10,65.85 97.67,64.42 94.44,63.16 91.42,61.93 88.60,60.65 86.00,59.30 83.60,57.74 81.42,56.08 79.44,54.52 77.67,53.21 76.10,52.00 74.75,50.37 73.60,48.60 72.67,47.02 71.94,45.64 71.42,44.56 71.10,43.90 71.00,43.67" fill="#FF7F7F"/>
<polygon points="71.00,43.67 71.10,43.69 71.42,43.75 71.94,43.85 72.67,43.99 73.60,44.17 74.75,44.38 76.10,44.62 77.67,44.88 79.44,45.16 81.42,45.46 83.60,45.79 86.00,46.10 88.60,46.32 91.42,46.53 94.44,46.78 97.67,47.03 101.10,47.31 104.75,47.61 108.60,47.92 112.67,48.25 116.94,48.57 121.42,48.86 126.10,49.16 131.00,49.50 134.00,49.74 137.00,50.00 140.00,50.28 143.00,50.56 146.00,50.84 149.00,51.12 152.00,51.39 155.00,51.65 158.00,51.92 161.00,52.18 164.00,52.44 167.00,52.69 170.00,52.93 173.00,53.14 176.00,53.35 179.00,53.55 182.00,53.74 185.00,53.93 188.00,54.11 191.00,54.30 194.00,54.48 197.00,54.66 200.00,54.84 203.00,55.02 206.00,55.20 209.00,55.38 212.00,55.56 215.00,55.76 218.00,55.96 221.00,56.16 224.00,56.36 227.00,56.55 230.00,56.74 233.00,56.92 236.00,57.09 239.00,57.25 242.00,57.41 245.00,57.57 248.00,57.73 251.00,57.90 254.00,58.07 257.00,58.24 260.00,58.42 263.00,58.60 266.00,58.78 269.00,58.97 272.00,59.17 275.00,59.38 278.00,59.61 281.00,59.85 284.00,60.09 287.00,60.32 290.00,60.53 293.00,60.73 296.00,60.92 299.00,61.10 302.00,61.27 305.00,61.45 308.00,61.62 311.00,61.80 314.00,61.98 317.00,62.15 320.00,62.32 323.00,62.50 326.00,62.68 329.00,62.87 332.00,63.07 335.00,63.30 338.00,63.56 341.00,63.82 344.00,64.08 347.00,64.32 350.00,64.54 353.00,64.72 356.00,64.88 359.00,65.02 362.00,65.16 365.00,65.30 368.00,65.44 371.00,65.60 374.00,65.77 377.00,65.95 380.00,66.14 383.00,66.33 386.00,66.51 389.00,66.69 392.00,66.85 395.00,67.02 398.00,67.17 401.00,67.33 404.00,67.47 407.00,67.62 410.00,67.76 413.00,67.89 416.00,68.01 419.00,68.12 422.00,68.24 425.00,68.35 428.00,68.47 431.00,68.60 434.00,68.73 436.00,68.83 437.00,68.87 439.00,68.97 440.00,69.02 442.00,69.12 443.00,69.17 445.00,69.27 446.00,69.32 448.00,69.43 449.00,69.49 451.00,69.60 452.00,69.66 454.00,69.79 455.00,69.85 457.00,69.99 458.00,70.06 460.00,70.21 461.00,70.28 463.00,70.43 464.00,70.51 466.00,70.65 467.00,70.73 469.00,70.86 470.00,70.93 471.00,71.00 472.00,71.06 473.00,71.13 474.00,71.19 475.00,71.25 476.00,71.31 477.00,71.37 478.00,71.43 479.00,71.49 480.00,71.55 481.00,71.61 482.00,71.66 483.00,71.72 484.00,71.78 485.00,71.84 486.00,71.90 487.00,71.96 488.00,72.02 489.00,72.08 490.00,72.14 491.00,72.20 492.00,72.26 493.00,72.33 494.00,72.39 495.00,72.45 496.00,72.51 497.00,72.58 498.00,72.64 499.00,72.70 500.00,72.77 501.00,72.83 502.00,72.90 503.00,72.96 504.00,73.03 505.00,73.09 506.00,73.16 507.00,73.23 508.00,73.29 509.00,73.36 510.00,73.43 511.00,73.50 512.00,73.57 513.00,73.65 514.00,73.72 515.00,73.79 516.00,73.87 517.00,73.95 518.00,74.03 519.00,74.11 520.00,74.19 521.00,74.27 522.00,74.34 523.00,74.42 524.00,74.50 525.00,74.58 526.00,74.65 527.00,74.73 528.00,74.80 529.00,74.87 530.00,74.94 531.00,75.00 532.00,75.06 533.00,75.12 534.00,75.18 535.00,75.24 536.00,75.29 537.00,75.35 538.00,75.40 539.00,75.46 540.00,75.51 541.00,75.56 542.00,75.61 543.00,75.66 544.00,75.72 545.00,75.77 546.00,75.82 547.00,75.87 548.00,75.93 549.00,75.99 550.00,76.04 551.00,76.10 552.00,76.16 553.00,76.22 554.00,76.28 555.00,76.34 556.00,76.41 557.00,76.47 558.00,76.53 559.00,76.60 560.00,76.66 561.00,76.73 562.00,76.79 563.00,76.86 564.00,76.92 565.00,76.99 566.00,77.06 567.00,77.13 568.00,77.19 569.00,77.26 570.00,77.33 571.00,77.40 572.00,77.47 573.00,77.55 574.00,77.62 575.00,77.69 576.00,77.77 577.00,77.85 578.00,77.93 579.00,78.01 580.00,78.09 581.00,78.17 582.00,78.24 583.00,78.32 584.00,78.40 585.00,78.48 586.00,78.55 587.00,78.63 588.00,78.70 589.00,78.77 590.00,78.84 591.00,78.90 592.00,78.96 593.00,79.02 594.00,79.08 595.00,79.14 596.00,79.20 597.00,79.25 598.00,79.31 599.00,79.36 600.00,79.42 601.00,79.47 602.00,79.52 603.00,79.58 604.00,79.63 605.00,79.68 606.00,79.73 607.00,79.79 608.00,79.84 609.00,79.89 610.00,79.95 611.00,80.00 612.00,80.05 613.00,80.11 614.00,80.16 615.00,80.22 616.00,80.27 617.00,80.33 618.00,80.38 619.00,80.44 620.00,80.49 621.00,80.54 622.00,80.60 623.00,80.65 624.00,80.71 625.00,80.76 626.00,80.82 627.00,80.87 628.00,80.93 629.00,80.99 630.00,81.04 631.00,81.10 632.00,81.16 633.00,81.22 634.00,81.27 635.00,81.33 636.00,81.39 637.00,81.45 638.00,81.51 639.00,81.57 640.00,81.63 641.00,81.69 642.00,81.75 643.00,81.81 644.00,81.87 645.00,81.93 646.00,81.99 647.00,82.05 648.00,82.11 649.00,82.18 650.00,82.24 651.00,82.30 652.00,82.36 653.00,82.43 654.00,82.49 655.00,82.55 656.00,82.62 657.00,82.68 658.00,82.74 659.00,82.81 660.00,82.87 661.00,82.94 662.00,83.00 663.00,83.07 664.00,83.13 665.00,83.20 666.00,83.27 667.00,83.33 668.00,83.40 669.00,83.47 670.00,83.53 671.00,83.60 671.00,90.10 670.00,90.02 669.00,89.94 668.00,89.86 667.00,89.78 666.00,89.71 665.00,89.63 664.00,89.55 663.00,89.48 662.00,89.40 661.00,89.32 660.00,89.25 659.00,89.17 658.00,89.10 657.00,89.03 656.00,88.96 655.00,88.88 654.00,88.81 653.00,88.74 652.00,88.67 651.00,88.60 650.00,88.53 649.00,88.46 648.00,88.39 647.00,88.33 646.00,88.26 645.00,88.19 644.00,88.13 643.00,88.06 642.00,88.00 641.00,87.93 640.00,87.87 639.00,87.80 638.00,87.74 637.00,87.68 636.00,87.61 635.00,87.55 634.00,87.49 633.00,87.43 632.00,87.36 631.00,87.30 630.00,87.24 629.00,87.18 628.00,87.12 627.00,87.05 626.00,86.99 625.00,86.93 624.00,86.87 623.00,86.81 622.00,86.75 621.00,86.69 620.00,86.63 619.00,86.58 618.00,86.52 617.00,86.46 616.00,86.40 615.00,86.34 614.00,86.28 613.00,86.22 612.00,86.16 611.00,86.10 610.00,86.04 609.00,85.98 608.00,85.92 607.00,85.86 606.00,85.80 605.00,85.75 604.00,85.69 603.00,85.63 602.00,85.57 601.00,85.51 600.00,85.45 599.00,85.39 598.00,85.33 597.00,85.27 596.00,85.21 595.00,85.15 594.00,85.09 593.00,85.03 592.00,84.96 591.00,84.90 590.00,84.83 589.00,84.77 588.00,84.70 587.00,84.63 586.00,84.56 585.00,84.49 584.00,84.42 583.00,84.35 582.00,84.28 581.00,84.21 580.00,84.13 579.00,84.06 578.00,83.99 577.00,83.92 576.00,83.85 575.00,83.78 574.00,83.71 573.00,83.64 572.00,83.57 571.00,83.50 570.00,83.43 569.00,83.37 568.00,83.30 567.00,83.23 566.00,83.17 565.00,83.10 564.00,83.04 563.00,82.97 562.00,82.91 561.00,82.84 560.00,82.78 559.00,82.72 558.00,82.65 557.00,82.59 556.00,82.52 555.00,82.46 554.00,82.39 553.00,82.33 552.00,82.26 551.00,82.20 550.00,82.14 549.00,82.07 548.00,82.01 547.00,81.94 546.00,81.88 545.00,81.82 544.00,81.76 543.00,81.69 542.00,81.63 541.00,81.57 540.00,81.50 539.00,81.44 538.00,81.37 537.00,81.31 536.00,81.24 535.00,81.18 534.00,81.11 533.00,81.04 532.00,80.97 531.00,80.90 530.00,80.83 529.00,80.75 528.00,80.67 527.00,80.60 526.00,80.52 525.00,80.44 524.00,80.36 523.00,80.27 522.00,80.19 521.00,80.11 520.00,80.02 519.00,79.94 518.00,79.86 517.00,79.78 516.00,79.69 515.00,79.61 514.00,79.53 513.00,79.45 512.00,79.38 511.00,79.30 510.00,79.23 509.00,79.15 508.00,79.08 507.00,79.01 506.00,78.93 505.00,78.86 504.00,78.79 503.00,78.72 502.00,78.65 501.00,78.58 500.00,78.51 499.00,78.44 498.00,78.38 497.00,78.31 496.00,78.24 495.00,78.17 494.00,78.10 493.00,78.04 492.00,77.97 491.00,77.90 490.00,77.83 489.00,77.77 488.00,77.70 487.00,77.64 486.00,77.58 485.00,77.52 484.00,77.45 483.00,77.39 482.00,77.33 481.00,77.27 480.00,77.21 479.00,77.15 478.00,77.08 477.00,77.02 476.00,76.95 475.00,76.88 474.00,76.82 473.00,76.75 472.00,76.67 471.00,76.60 470.00,76.52 469.00,76.44 467.00,76.27 466.00,76.18 464.00,76.00 463.00,75.90 461.00,75.71 460.00,75.61 458.00,75.42 457.00,75.33 455.00,75.14 454.00,75.05 452.00,74.88 451.00,74.80 449.00,74.64 448.00,74.57 446.00,74.42 445.00,74.35 443.00,74.20 442.00,74.13 440.00,74.00 439.00,73.93 437.00,73.79 436.00,73.73 434.00,73.59 431.00,73.40 428.00,73.21 425.00,73.03 422.00,72.86 419.00,72.68 416.00,72.51 413.00,72.33 410.00,72.13 407.00,71.93 404.00,71.73 401.00,71.51 398.00,71.30 395.00,71.08 392.00,70.87 389.00,70.66 386.00,70.44 383.00,70.22 380.00,70.00 377.00,69.79 374.00,69.58 371.00,69.40 368.00,69.24 365.00,69.09 362.00,68.96 359.00,68.83 356.00,68.68 353.00,68.52 350.00,68.33 347.00,68.10 344.00,67.83 341.00,67.54 338.00,67.24 335.00,66.95 332.00,66.68 329.00,66.44 326.00,66.22 323.00,66.00 320.00,65.80 317.00,65.59 314.00,65.39 311.00,65.20 308.00,65.01 305.00,64.84 302.00,64.67 299.00,64.51 296.00,64.33 293.00,64.14 290.00,63.93 287.00,63.67 284.00,63.39 281.00,63.10 278.00,62.81 275.00,62.53 272.00,62.27 269.00,62.06 266.00,61.86 263.00,61.68 260.00,61.51 257.00,61.34 254.00,61.17 251.00,61.00 248.00,60.83 245.00,60.68 242.00,60.52 239.00,60.36 236.00,60.20 233.00,60.03 230.00,59.83 227.00,59.61 224.00,59.37 221.00,59.11 218.00,58.85 215.00,58.60 212.00,58.37 209.00,58.17 206.00,57.98 203.00,57.80 200.00,57.63 197.00,57.46 194.00,57.28 191.00,57.10 188.00,56.92 185.00,56.74 182.00,56.55 179.00,56.36 176.00,56.17 173.00,55.95 170.00,55.72 167.00,55.46 164.00,55.17 161.00,54.86 158.00,54.55 155.00,54.23 152.00,53.91 149.00,53.58 146.00,53.24 143.00,52.88 140.00,52.53 137.00,52.18 134.00,51.87 131.00,51.60 126.10,51.25 121.42,50.97 116.94,50.67 112.67,50.33 108.60,49.96 104.75,49.59 101.10,49.21 97.67,48.81 94.44,48.41 91.42,48.05 88.60,47.77 86.00,47.50 83.60,47.15 81.42,46.77 79.44,46.43 77.67,46.02 76.10,45.53 74.75,45.08 73.60,44.67 72.67,44.32 71.94,44.04 71.42,43.84 71.10,43.71 71.00,43.67" fill="#C984F5"/>
<polygon points="71.00,43.67 71.10,43.70 71.42,43.77 71.94,43.90 72.67,44.07 73.60,44.29 74.75,44.54 76.10,44.82 77.67,45.12 79.44,45.43 81.42,45.77 83.60,46.15 86.00,46.50 88.60,46.77 91.42,47.05 94.44,47.41 97.67,47.81 101.10,48.21 104.75,48.59 108.60,48.96 112.67,49.33 116.94,49.67 121.42,49.97 126.10,50.25 131.00,50.60 134.00,50.87 137.00,51.18 140.00,51.53 143.00,51.88 146.00,52.24 149.00,52.58 152.00,52.91 155.00,53.23 158.00,53.55 161.00,53.86 164.00,54.17 167.00,54.46 170.00,54.72 173.00,54.95 176.00,55.17 179.00,55.36 182.00,55.55 185.00,55.74 188.00,55.92 191.00,56.10 194.00,56.28 197.00,56.46 200.00,56.63 203.00,56.80 206.00,56.98 209.00,57.17 212.00,57.37 215.00,57.60 218.00,57.85 221.00,58.11 224.00,58.37 227.00,58.61 230.00,58.83 233.00,59.03 236.00,59.20 239.00,59.36 242.00,59.52 245.00,59.68 248.00,59.83 251.00,60.00 254.00,60.17 257.00,60.34 260.00,60.51 263.00,60.68 266.00,60.86 269.00,61.06 272.00,61.27 275.00,61.53 278.00,61.81 281.00,62.10 284.00,62.39 287.00,62.67 290.00,62.93 293.00,63.14 296.00,63.33 299.00,63.51 302.00,63.67 305.00,63.84 308.00,64.01 311.00,64.20 314.00,64.39 317.00,64.59 320.00,64.80 323.00,65.00 326.00,65.22 329.00,65.44 332.00,65.68 335.00,65.95 338.00,66.24 341.00,66.54 344.00,66.83 347.00,67.10 350.00,67.33 353.00,67.52 356.00,67.68 359.00,67.83 362.00,67.96 365.00,68.09 368.00,68.24 371.00,68.40 374.00,68.58 377.00,68.79 380.00,69.00 383.00,69.22 386.00,69.44 389.00,69.66 392.00,69.87 395.00,70.08 398.00,70.30 401.00,70.51 404.00,70.73 407.00,70.93 410.00,71.13 413.00,71.33 416.00,71.51 419.00,71.68 422.00,71.86 425.00,72.03 428.00,72.21 431.00,72.40 434.00,72.59 436.00,72.73 437.00,72.79 439.00,72.93 440.00,73.00 442.00,73.13 443.00,73.20 445.00,73.35 446.00,73.42 448.00,73.57 449.00,73.64 451.00,73.80 452.00,73.88 454.00,74.05 455.00,74.14 457.00,74.33 458.00,74.42 460.00,74.61 461.00,74.71 463.00,74.90 464.00,75.00 466.00,75.18 467.00,75.27 469.00,75.44 470.00,75.52 471.00,75.60 472.00,75.67 473.00,75.75 474.00,75.82 475.00,75.88 476.00,75.95 477.00,76.02 478.00,76.08 479.00,76.15 480.00,76.21 481.00,76.27 482.00,76.33 483.00,76.39 484.00,76.45 485.00,76.52 486.00,76.58 487.00,76.64 488.00,76.70 489.00,76.77 490.00,76.83 491.00,76.90 492.00,76.97 493.00,77.04 494.00,77.10 495.00,77.17 496.00,77.24 497.00,77.31 498.00,77.38 499.00,77.44 500.00,77.51 501.00,77.58 502.00,77.65 503.00,77.72 504.00,77.79 505.00,77.86 506.00,77.93 507.00,78.01 508.00,78.08 509.00,78.15 510.00,78.23 511.00,78.30 512.00,78.38 513.00,78.45 514.00,78.53 515.00,78.61 516.00,78.69 517.00,78.78 518.00,78.86 519.00,78.94 520.00,79.02 521.00,79.11 522.00,79.19 523.00,79.27 524.00,79.36 525.00,79.44 526.00,79.52 527.00,79.60 528.00,79.67 529.00,79.75 530.00,79.83 531.00,79.90 532.00,79.97 533.00,80.04 534.00,80.11 535.00,80.18 536.00,80.24 537.00,80.31 538.00,80.37 539.00,80.44 540.00,80.50 541.00,80.57 542.00,80.63 543.00,80.69 544.00,80.76 545.00,80.82 546.00,80.88 547.00,80.94 548.00,81.01 549.00,81.07 550.00,81.14 551.00,81.20 552.00,81.26 553.00,81.33 554.00,81.39 555.00,81.46 556.00,81.52 557.00,81.59 558.00,81.65 559.00,81.72 560.00,81.78 561.00,81.84 562.00,81.91 563.00,81.97 564.00,82.04 565.00,82.10 566.00,82.17 567.00,82.23 568.00,82.30 569.00,82.37 570.00,82.43 571.00,82.50 572.00,82.57 573.00,82.64 574.00,82.71 575.00,82.78 576.00,82.85 577.00,82.92 578.00,82.99 579.00,83.06 580.00,83.13 581.00,83.21 582.00,83.28 583.00,83.35 584.00,83.42 585.00,83.49 586.00,83.56 587.00,83.63 588.00,83.70 589.00,83.77 590.00,83.83 591.00,83.90 592.00,83.96 593.00,84.03 594.00,84.09 595.00,84.15 596.00,84.21 597.00,84.27 598.00,84.33 599.00,84.39 600.00,84.45 601.00,84.51 602.00,84.57 603.00,84.63 604.00,84.69 605.00,84.75 606.00,84.80 607.00,84.86 608.00,84.92 609.00,84.98 610.00,85.04 611.00,85.10 612.00,85.16 613.00,85.22 614.00,85.28 615.00,85.34 616.00,85.40 617.00,85.46 618.00,85.52 619.00,85.58 620.00,85.63 621.00,85.69 622.00,85.75 623.00,85.81 624.00,85.87 625.00,85.93 626.00,85.99 627.00,86.05 628.00,86.12 629.00,86.18 630.00,86.24 631.00,86.30 632.00,86.36 633.00,86.43 634.00,86.49 635.00,86.55 636.00,86.61 637.00,86.68 638.00,86.74 639.00,86.80 640.00,86.87 641.00,86.93 642.00,87.00 643.00,87.06 644.00,87.13 645.00,87.19 646.00,87.26 647.00,87.33 648.00,87.39 649.00,87.46 650.00,87.53 651.00,87.60 652.00,87.67 653.00,87.74 654.00,87.81 655.00,87.88 656.00,87.96 657.00,88.03 658.00,88.10 659.00,88.17 660.00,88.25 661.00,88.32 662.00,88.40 663.00,88.48 664.00,88.55 665.00,88.63 666.00,88.71 667.00,88.78 668.00,88.86 669.00,88.94 670.00,89.02 671.00,89.10 671.00,98.70 670.00,98.62 669.00,98.53 668.00,98.45 667.00,98.36 666.00,98.28 665.00,98.20 664.00,98.12 663.00,98.04 662.00,97.95 661.00,97.87 660.00,97.79 659.00,97.72 658.00,97.64 657.00,97.56 656.00,97.48 655.00,97.40 654.00,97.33 653.00,97.25 652.00,97.18 651.00,97.10 650.00,97.03 649.00,96.95 648.00,96.88 647.00,96.81 646.00,96.74 645.00,96.67 644.00,96.60 643.00,96.53 642.00,96.46 641.00,96.39 640.00,96.33 639.00,96.26 638.00,96.19 637.00,96.12 636.00,96.05 635.00,95.98 634.00,95.91 633.00,95.84 632.00,95.77 631.00,95.70 630.00,95.63 629.00,95.55 628.00,95.48 627.00,95.41 626.00,95.33 625.00,95.26 624.00,95.19 623.00,95.11 622.00,95.04 621.00,94.96 620.00,94.89 619.00,94.81 618.00,94.74 617.00,94.66 616.00,94.58 615.00,94.51 614.00,94.43 613.00,94.35 612.00,94.28 611.00,94.20 610.00,94.12 609.00,94.05 608.00,93.97 607.00,93.89 606.00,93.81 605.00,93.74 604.00,93.66 603.00,93.58 602.00,93.50 601.00,93.42 600.00,93.34 599.00,93.26 598.00,93.18 597.00,93.10 596.00,93.02 595.00,92.94 594.00,92.85 593.00,92.77 592.00,92.69 591.00,92.60 590.00,92.51 589.00,92.42 588.00,92.33 587.00,92.24 586.00,92.14 585.00,92.05 584.00,91.95 583.00,91.85 582.00,91.76 581.00,91.66 580.00,91.56 579.00,91.46 578.00,91.36 577.00,91.27 576.00,91.17 575.00,91.07 574.00,90.98 573.00,90.88 572.00,90.79 571.00,90.70 570.00,90.61 569.00,90.52 568.00,90.43 567.00,90.34 566.00,90.26 565.00,90.17 564.00,90.08 563.00,90.00 562.00,89.91 561.00,89.83 560.00,89.74 559.00,89.66 558.00,89.57 557.00,89.49 556.00,89.41 555.00,89.32 554.00,89.24 553.00,89.16 552.00,89.08 551.00,89.00 550.00,88.92 549.00,88.84 548.00,88.76 547.00,88.69 546.00,88.61 545.00,88.54 544.00,88.46 543.00,88.39 542.00,88.31 541.00,88.24 540.00,88.16 539.00,88.09 538.00,88.02 537.00,87.94 536.00,87.87 535.00,87.80 534.00,87.72 533.00,87.65 532.00,87.57 531.00,87.50 530.00,87.42 529.00,87.35 528.00,87.28 527.00,87.20 526.00,87.12 525.00,87.05 524.00,86.97 523.00,86.90 522.00,86.83 521.00,86.75 520.00,86.67 519.00,86.60 518.00,86.53 517.00,86.45 516.00,86.38 515.00,86.30 514.00,86.22 513.00,86.15 512.00,86.08 511.00,86.00 510.00,85.93 509.00,85.85 508.00,85.78 507.00,85.70 506.00,85.63 505.00,85.56 504.00,85.48 503.00,85.41 502.00,85.34 501.00,85.26 500.00,85.19 499.00,85.11 498.00,85.04 497.00,84.96 496.00,84.89 495.00,84.81 494.00,84.74 493.00,84.66 492.00,84.58 491.00,84.50 490.00,84.42 489.00,84.34 488.00,84.26 487.00,84.17 486.00,84.09 485.00,84.01 484.00,83.92 483.00,83.84 482.00,83.75 481.00,83.67 480.00,83.58 479.00,83.50 478.00,83.41 477.00,83.32 476.00,83.24 475.00,83.15 474.00,83.06 473.00,82.97 472.00,82.89 471.00,82.80 470.00,82.71 469.00,82.62 467.00,82.44 466.00,82.35 464.00,82.16 463.00,82.07 461.00,81.89 460.00,81.79 458.00,81.61 457.00,81.52 455.00,81.34 454.00,81.25 452.00,81.08 451.00,81.00 449.00,80.84 448.00,80.76 446.00,80.61 445.00,80.53 443.00,80.39 442.00,80.31 440.00,80.17 439.00,80.09 437.00,79.95 436.00,79.87 434.00,79.73 431.00,79.50 428.00,79.27 425.00,79.03 422.00,78.79 419.00,78.55 416.00,78.31 413.00,78.06 410.00,77.82 407.00,77.56 404.00,77.31 401.00,77.05 398.00,76.79 395.00,76.54 392.00,76.28 389.00,76.04 386.00,75.79 383.00,75.55 380.00,75.31 377.00,75.07 374.00,74.83 371.00,74.60 368.00,74.37 365.00,74.15 362.00,73.94 359.00,73.72 356.00,73.50 353.00,73.26 350.00,73.01 347.00,72.74 344.00,72.46 341.00,72.16 338.00,71.86 335.00,71.57 332.00,71.29 329.00,71.03 326.00,70.78 323.00,70.54 320.00,70.30 317.00,70.06 314.00,69.83 311.00,69.60 308.00,69.37 305.00,69.16 302.00,68.94 299.00,68.73 296.00,68.50 293.00,68.27 290.00,68.01 287.00,67.73 284.00,67.42 281.00,67.10 278.00,66.78 275.00,66.47 272.00,66.19 269.00,65.93 266.00,65.69 263.00,65.47 260.00,65.25 257.00,65.04 254.00,64.82 251.00,64.60 248.00,64.38 245.00,64.16 242.00,63.94 239.00,63.72 236.00,63.49 233.00,63.26 230.00,63.02 227.00,62.75 224.00,62.48 221.00,62.19 218.00,61.91 215.00,61.64 212.00,61.38 209.00,61.15 206.00,60.93 203.00,60.72 200.00,60.52 197.00,60.32 194.00,60.12 191.00,59.90 188.00,59.68 185.00,59.45 182.00,59.22 179.00,58.99 176.00,58.74 173.00,58.48 170.00,58.21 167.00,57.90 164.00,57.58 161.00,57.24 158.00,56.90 155.00,56.55 152.00,56.21 149.00,55.88 146.00,55.54 143.00,55.21 140.00,54.88 137.00,54.54 134.00,54.22 131.00,53.90 126.10,53.42 121.42,52.97 116.94,52.51 112.67,51.98 108.60,51.41 104.75,50.84 101.10,50.31 97.67,49.81 94.44,49.34 91.42,48.94 88.60,48.67 86.00,48.40 83.60,47.89 81.42,47.13 79.44,46.54 77.67,46.02 76.10,45.53 74.75,45.08 73.60,44.67 72.67,44.32 71.94,44.04 71.42,43.84 71.10,43.71 71.00,43.67" fill="#7D6BC2"/>
<polygon points="71.00,43.67 71.10,43.70 71.42,43.80 71.94,43.96 72.67,44.17 73.60,44.44 74.75,44.77 76.10,45.13 77.67,45.52 79.44,45.94 81.42,46.40 83.60,46.93 86.00,47.40 88.60,47.67 91.42,47.95 94.44,48.34 97.67,48.81 101.10,49.31 104.75,49.84 108.60,50.41 112.67,50.98 116.94,51.51 121.42,51.97 126.10,52.42 131.00,52.90 134.00,53.22 137.00,53.54 140.00,53.88 143.00,54.21 146.00,54.54 149.00,54.88 152.00,55.21 155.00,55.55 158.00,55.90 161.00,56.24 164.00,56.58 167.00,56.90 170.00,57.21 173.00,57.48 176.00,57.74 179.00,57.99 182.00,58.22 185.00,58.45 188.00,58.68 191.00,58.90 194.00,59.12 197.00,59.32 200.00,59.52 203.00,59.72 206.00,59.93 209.00,60.15 212.00,60.38 215.00,60.64 218.00,60.91 221.00,61.19 224.00,61.48 227.00,61.75 230.00,62.02 233.00,62.26 236.00,62.49 239.00,62.72 242.00,62.94 245.00,63.16 248.00,63.38 251.00,63.60 254.00,63.82 257.00,64.04 260.00,64.25 263.00,64.47 266.00,64.69 269.00,64.93 272.00,65.19 275.00,65.47 278.00,65.78 281.00,66.10 284.00,66.42 287.00,66.73 290.00,67.01 293.00,67.27 296.00,67.50 299.00,67.73 302.00,67.94 305.00,68.16 308.00,68.37 311.00,68.60 314.00,68.83 317.00,69.06 320.00,69.30 323.00,69.54 326.00,69.78 329.00,70.03 332.00,70.29 335.00,70.57 338.00,70.86 341.00,71.16 344.00,71.46 347.00,71.74 350.00,72.01 353.00,72.26 356.00,72.50 359.00,72.72 362.00,72.94 365.00,73.15 368.00,73.37 371.00,73.60 374.00,73.83 377.00,74.07 380.00,74.31 383.00,74.55 386.00,74.79 389.00,75.04 392.00,75.28 395.00,75.54 398.00,75.79 401.00,76.05 404.00,76.31 407.00,76.56 410.00,76.82 413.00,77.06 416.00,77.31 419.00,77.55 422.00,77.79 425.00,78.03 428.00,78.27 431.00,78.50 434.00,78.73 436.00,78.87 437.00,78.95 439.00,79.09 440.00,79.17 442.00,79.31 443.00,79.39 445.00,79.53 446.00,79.61 448.00,79.76 449.00,79.84 451.00,80.00 452.00,80.08 454.00,80.25 455.00,80.34 457.00,80.52 458.00,80.61 460.00,80.79 461.00,80.89 463.00,81.07 464.00,81.16 466.00,81.35 467.00,81.44 469.00,81.62 470.00,81.71 471.00,81.80 472.00,81.89 473.00,81.97 474.00,82.06 475.00,82.15 476.00,82.24 477.00,82.32 478.00,82.41 479.00,82.50 480.00,82.58 481.00,82.67 482.00,82.75 483.00,82.84 484.00,82.92 485.00,83.01 486.00,83.09 487.00,83.17 488.00,83.26 489.00,83.34 490.00,83.42 491.00,83.50 492.00,83.58 493.00,83.66 494.00,83.74 495.00,83.81 496.00,83.89 497.00,83.96 498.00,84.04 499.00,84.11 500.00,84.19 501.00,84.26 502.00,84.34 503.00,84.41 504.00,84.48 505.00,84.56 506.00,84.63 507.00,84.70 508.00,84.78 509.00,84.85 510.00,84.93 511.00,85.00 512.00,85.08 513.00,85.15 514.00,85.22 515.00,85.30 516.00,85.38 517.00,85.45 518.00,85.53 519.00,85.60 520.00,85.67 521.00,85.75 522.00,85.83 523.00,85.90 524.00,85.97 525.00,86.05 526.00,86.12 527.00,86.20 528.00,86.28 529.00,86.35 530.00,86.42 531.00,86.50 532.00,86.57 533.00,86.65 534.00,86.72 535.00,86.80 536.00,86.87 537.00,86.94 538.00,87.02 539.00,87.09 540.00,87.16 541.00,87.24 542.00,87.31 543.00,87.39 544.00,87.46 545.00,87.54 546.00,87.61 547.00,87.69 548.00,87.76 549.00,87.84 550.00,87.92 551.00,88.00 552.00,88.08 553.00,88.16 554.00,88.24 555.00,88.32 556.00,88.41 557.00,88.49 558.00,88.57 559.00,88.66 560.00,88.74 561.00,88.83 562.00,88.91 563.00,89.00 564.00,89.08 565.00,89.17 566.00,89.26 567.00,89.34 568.00,89.43 569.00,89.52 570.00,89.61 571.00,89.70 572.00,89.79 573.00,89.88 574.00,89.98 575.00,90.07 576.00,90.17 577.00,90.27 578.00,90.36 579.00,90.46 580.00,90.56 581.00,90.66 582.00,90.76 583.00,90.85 584.00,90.95 585.00,91.05 586.00,91.14 587.00,91.24 588.00,91.33 589.00,91.42 590.00,91.51 591.00,91.60 592.00,91.69 593.00,91.77 594.00,91.85 595.00,91.94 596.00,92.02 597.00,92.10 598.00,92.18 599.00,92.26 600.00,92.34 601.00,92.42 602.00,92.50 603.00,92.58 604.00,92.66 605.00,92.74 606.00,92.81 607.00,92.89 608.00,92.97 609.00,93.05 610.00,93.12 611.00,93.20 612.00,93.28 613.00,93.35 614.00,93.43 615.00,93.51 616.00,93.58 617.00,93.66 618.00,93.74 619.00,93.81 620.00,93.89 621.00,93.96 622.00,94.04 623.00,94.11 624.00,94.19 625.00,94.26 626.00,94.33 627.00,94.41 628.00,94.48 629.00,94.55 630.00,94.63 631.00,94.70 632.00,94.77 633.00,94.84 634.00,94.91 635.00,94.98 636.00,95.05 637.00,95.12 638.00,95.19 639.00,95.26 640.00,95.33 641.00,95.39 642.00,95.46 643.00,95.53 644.00,95.60 645.00,95.67 646.00,95.74 647.00,95.81 648.00,95.88 649.00,95.95 650.00,96.03 651.00,96.10 652.00,96.18 653.00,96.25 654.00,96.33 655.00,96.40 656.00,96.48 657.00,96.56 658.00,96.64 659.00,96.72 660.00,96.79 661.00,96.87 662.00,96.95 663.00,97.04 664.00,97.12 665.00,97.20 666.00,97.28 667.00,97.36 668.00,97.45 669.00,97.53 670.00,97.62 671.00,97.70 671.00,102.70 670.00,102.61 669.00,102.52 668.00,102.43 667.00,102.34 666.00,102.26 665.00,102.17 664.00,102.08 663.00,102.00 662.00,101.91 661.00,101.82 660.00,101.74 659.00,101.66 658.00,101.57 657.00,101.49 656.00,101.41 655.00,101.32 654.00,101.24 653.00,101.16 652.00,101.08 651.00,101.00 650.00,100.92 649.00,100.84 648.00,100.77 647.00,100.69 646.00,100.61 645.00,100.54 644.00,100.46 643.00,100.39 642.00,100.32 641.00,100.24 640.00,100.17 639.00,100.10 638.00,100.02 637.00,99.95 636.00,99.88 635.00,99.80 634.00,99.73 633.00,99.65 632.00,99.58 631.00,99.50 630.00,99.42 629.00,99.35 628.00,99.27 627.00,99.19 626.00,99.11 625.00,99.04 624.00,98.96 623.00,98.88 622.00,98.80 621.00,98.72 620.00,98.64 619.00,98.56 618.00,98.48 617.00,98.40 616.00,98.32 615.00,98.24 614.00,98.16 613.00,98.07 612.00,97.99 611.00,97.90 610.00,97.81 609.00,97.72 608.00,97.63 607.00,97.54 606.00,97.45 605.00,97.36 604.00,97.26 603.00,97.17 602.00,97.07 601.00,96.98 600.00,96.88 599.00,96.78 598.00,96.68 597.00,96.59 596.00,96.49 595.00,96.39 594.00,96.29 593.00,96.20 592.00,96.10 591.00,96.00 590.00,95.90 589.00,95.80 588.00,95.70 587.00,95.60 586.00,95.50 585.00,95.40 584.00,95.30 583.00,95.20 582.00,95.10 581.00,95.00 580.00,94.90 579.00,94.80 578.00,94.70 577.00,94.60 576.00,94.50 575.00,94.40 574.00,94.30 573.00,94.20 572.00,94.10 571.00,94.00 570.00,93.90 569.00,93.80 568.00,93.71 567.00,93.61 566.00,93.51 565.00,93.41 564.00,93.31 563.00,93.21 562.00,93.11 561.00,93.02 560.00,92.92 559.00,92.82 558.00,92.73 557.00,92.63 556.00,92.54 555.00,92.45 554.00,92.36 553.00,92.27 552.00,92.19 551.00,92.10 550.00,92.02 549.00,91.94 548.00,91.86 547.00,91.78 546.00,91.70 545.00,91.63 544.00,91.55 543.00,91.48 542.00,91.41 541.00,91.33 540.00,91.26 539.00,91.19 538.00,91.12 537.00,91.05 536.00,90.97 535.00,90.90 534.00,90.83 533.00,90.75 532.00,90.68 531.00,90.60 530.00,90.52 529.00,90.44 528.00,90.37 527.00,90.29 526.00,90.21 525.00,90.13 524.00,90.05 523.00,89.97 522.00,89.89 521.00,89.81 520.00,89.73 519.00,89.65 518.00,89.57 517.00,89.49 516.00,89.41 515.00,89.33 514.00,89.25 513.00,89.16 512.00,89.08 511.00,89.00 510.00,88.92 509.00,88.83 508.00,88.75 507.00,88.67 506.00,88.58 505.00,88.50 504.00,88.42 503.00,88.33 502.00,88.25 501.00,88.16 500.00,88.08 499.00,87.99 498.00,87.91 497.00,87.82 496.00,87.73 495.00,87.65 494.00,87.56 493.00,87.47 492.00,87.39 491.00,87.30 490.00,87.21 489.00,87.12 488.00,87.04 487.00,86.95 486.00,86.86 485.00,86.77 484.00,86.68 483.00,86.60 482.00,86.51 481.00,86.42 480.00,86.33 479.00,86.24 478.00,86.15 477.00,86.06 476.00,85.97 475.00,85.87 474.00,85.78 473.00,85.69 472.00,85.59 471.00,85.50 470.00,85.40 469.00,85.31 467.00,85.11 466.00,85.01 464.00,84.80 463.00,84.70 461.00,84.49 460.00,84.39 458.00,84.18 457.00,84.08 455.00,83.88 454.00,83.79 452.00,83.59 451.00,83.50 449.00,83.32 448.00,83.23 446.00,83.06 445.00,82.97 443.00,82.80 442.00,82.72 440.00,82.55 439.00,82.47 437.00,82.30 436.00,82.22 434.00,82.05 431.00,81.80 428.00,81.55 425.00,81.29 422.00,81.04 419.00,80.79 416.00,80.53 413.00,80.27 410.00,80.01 407.00,79.74 404.00,79.47 401.00,79.20 398.00,78.93 395.00,78.66 392.00,78.39 389.00,78.13 386.00,77.87 383.00,77.61 380.00,77.35 377.00,77.10 374.00,76.85 371.00,76.60 368.00,76.36 365.00,76.12 362.00,75.88 359.00,75.65 356.00,75.41 353.00,75.17 350.00,74.91 347.00,74.65 344.00,74.38 341.00,74.11 338.00,73.83 335.00,73.56 332.00,73.29 329.00,73.03 326.00,72.77 323.00,72.52 320.00,72.27 317.00,72.01 314.00,71.76 311.00,71.50 308.00,71.24 305.00,70.98 302.00,70.71 299.00,70.44 296.00,70.17 293.00,69.89 290.00,69.60 287.00,69.30 284.00,68.98 281.00,68.65 278.00,68.32 275.00,68.00 272.00,67.70 269.00,67.41 266.00,67.13 263.00,66.86 260.00,66.59 257.00,66.33 254.00,66.07 251.00,65.80 248.00,65.53 245.00,65.26 242.00,64.99 239.00,64.72 236.00,64.45 233.00,64.18 230.00,63.91 227.00,63.63 224.00,63.35 221.00,63.07 218.00,62.80 215.00,62.53 212.00,62.28 209.00,62.05 206.00,61.83 203.00,61.63 200.00,61.43 197.00,61.23 194.00,61.02 191.00,60.80 188.00,60.57 185.00,60.33 182.00,60.09 179.00,59.83 176.00,59.57 173.00,59.29 170.00,59.00 167.00,58.69 164.00,58.35 161.00,58.01 158.00,57.65 155.00,57.28 152.00,56.92 149.00,56.56 146.00,56.18 143.00,55.79 140.00,55.40 137.00,55.01 134.00,54.65 131.00,54.30 126.10,53.81 121.42,53.38 116.94,52.91 112.67,52.35 108.60,51.71 104.75,51.06 101.10,50.47 97.67,49.89 94.44,49.35 91.42,48.94 88.60,48.72 86.00,48.50 83.60,47.89 81.42,47.13 79.44,46.54 77.67,46.02 76.10,45.53 74.75,45.08 73.60,44.67 72.67,44.32 71.94,44.04 71.42,43.84 71.10,43.71 71.00,43.67" fill="#3DA671"/>
<polygon points="71.00,43.67 71.10,43.68 71.42,43.70 71.94,43.74 72.67,43.80 73.60,43.87 74.75,43.96 76.10,44.06 77.67,44.18 79.44,44.32 81.42,44.44 83.60,44.55 86.00,44.65 88.60,44.76 91.42,44.86 94.44,44.95 97.67,45.03 101.10,45.10 104.75,45.18 108.60,45.26 112.67,45.34 116.94,45.41 121.42,45.48 126.10,45.54 131.00,45.60 134.00,45.64 137.00,45.69 140.00,45.74 143.00,45.79 146.00,45.83 149.00,45.87 152.00,45.91 155.00,45.94 158.00,45.97 161.00,46.00 164.00,46.03 167.00,46.06 170.00,46.09 173.00,46.12 176.00,46.16 179.00,46.21 182.00,46.25 185.00,46.30 188.00,46.35 191.00,46.40 194.00,46.45 197.00,46.52 200.00,46.58 203.00,46.64 206.00,46.71 209.00,46.76 212.00,46.82 215.00,46.86 218.00,46.91 221.00,46.95 224.00,46.99 227.00,47.04 230.00,47.08 233.00,47.13 236.00,47.19 239.00,47.24 242.00,47.30 245.00,47.36 248.00,47.43 251.00,47.50 254.00,47.58 257.00,47.66 260.00,47.75 263.00,47.85 266.00,47.94 269.00,48.04 272.00,48.13 275.00,48.22 278.00,48.31 281.00,48.41 284.00,48.50 287.00,48.59 290.00,48.67 293.00,48.75 296.00,48.84 299.00,48.92 302.00,49.00 305.00,49.07 308.00,49.14 311.00,49.20 314.00,49.25 317.00,49.30 320.00,49.35 323.00,49.39 326.00,49.43 329.00,49.47 332.00,49.51 335.00,49.56 338.00,49.60 341.00,49.64 344.00,49.69 347.00,49.73 350.00,49.78 353.00,49.83 356.00,49.89 359.00,49.95 362.00,50.01 365.00,50.07 368.00,50.13 371.00,50.20 374.00,50.27 377.00,50.35 380.00,50.42 383.00,50.50 386.00,50.58 389.00,50.65 392.00,50.72 395.00,50.78 398.00,50.84 401.00,50.90 404.00,50.96 407.00,51.02 410.00,51.08 413.00,51.15 416.00,51.22 419.00,51.30 422.00,51.38 425.00,51.45 428.00,51.53 431.00,51.60 434.00,51.67 436.00,51.71 437.00,51.73 439.00,51.77 440.00,51.79 442.00,51.83 443.00,51.85 445.00,51.89 446.00,51.91 448.00,51.95 449.00,51.97 451.00,52.00 452.00,52.02 454.00,52.05 455.00,52.06 457.00,52.09 458.00,52.11 460.00,52.13 461.00,52.15 463.00,52.17 464.00,52.19 466.00,52.22 467.00,52.23 469.00,52.27 470.00,52.28 471.00,52.30 472.00,52.32 473.00,52.34 474.00,52.36 475.00,52.39 476.00,52.41 477.00,52.44 478.00,52.46 479.00,52.49 480.00,52.51 481.00,52.54 482.00,52.57 483.00,52.60 484.00,52.62 485.00,52.65 486.00,52.68 487.00,52.70 488.00,52.73 489.00,52.75 490.00,52.78 491.00,52.80 492.00,52.82 493.00,52.84 494.00,52.86 495.00,52.89 496.00,52.91 497.00,52.93 498.00,52.95 499.00,52.97 500.00,52.99 501.00,53.01 502.00,53.02 503.00,53.04 504.00,53.06 505.00,53.08 506.00,53.10 507.00,53.12 508.00,53.14 509.00,53.16 510.00,53.18 511.00,53.20 512.00,53.22 513.00,53.24 514.00,53.26 515.00,53.28 516.00,53.30 517.00,53.31 518.00,53.33 519.00,53.35 520.00,53.37 521.00,53.39 522.00,53.41 523.00,53.43 524.00,53.45 525.00,53.47 526.00,53.49 527.00,53.51 528.00,53.53 529.00,53.55 530.00,53.58 531.00,53.60 532.00,53.63 533.00,53.65 534.00,53.68 535.00,53.70 536.00,53.73 537.00,53.76 538.00,53.79 539.00,53.82 540.00,53.85 541.00,53.88 542.00,53.91 543.00,53.94 544.00,53.97 545.00,54.01 546.00,54.04 547.00,54.07 548.00,54.10 549.00,54.14 550.00,54.17 551.00,54.20 552.00,54.23 553.00,54.27 554.00,54.30 555.00,54.34 556.00,54.37 557.00,54.41 558.00,54.45 559.00,54.48 560.00,54.52 561.00,54.56 562.00,54.59 563.00,54.63 564.00,54.67 565.00,54.70 566.00,54.74 567.00,54.77 568.00,54.81 569.00,54.84 570.00,54.87 571.00,54.90 572.00,54.93 573.00,54.96 574.00,54.98 575.00,55.01 576.00,55.04 577.00,55.07 578.00,55.09 579.00,55.12 580.00,55.14 581.00,55.17 582.00,55.19 583.00,55.22 584.00,55.24 585.00,55.26 586.00,55.29 587.00,55.31 588.00,55.33 589.00,55.36 590.00,55.38 591.00,55.40 592.00,55.42 593.00,55.44 594.00,55.46 595.00,55.49 596.00,55.51 597.00,55.53 598.00,55.55 599.00,55.57 600.00,55.59 601.00,55.61 602.00,55.62 603.00,55.64 604.00,55.66 605.00,55.68 606.00,55.70 607.00,55.72 608.00,55.74 609.00,55.76 610.00,55.78 611.00,55.80 612.00,55.82 613.00,55.84 614.00,55.86 615.00,55.88 616.00,55.90 617.00,55.92 618.00,55.94 619.00,55.96 620.00,55.98 621.00,55.99 622.00,56.01 623.00,56.03 624.00,56.05 625.00,56.07 626.00,56.09 627.00,56.11 628.00,56.14 629.00,56.16 630.00,56.18 631.00,56.20 632.00,56.22 633.00,56.25 634.00,56.27 635.00,56.29 636.00,56.32 637.00,56.34 638.00,56.37 639.00,56.39 640.00,56.42 641.00,56.44 642.00,56.47 643.00,56.49 644.00,56.52 645.00,56.55 646.00,56.57 647.00,56.60 648.00,56.62 649.00,56.65 650.00,56.67 651.00,56.70 652.00,56.72 653.00,56.75 654.00,56.77 655.00,56.80 656.00,56.83 657.00,56.85 658.00,56.88 659.00,56.90 660.00,56.93 661.00,56.95 662.00,56.98 663.00,57.00 664.00,57.03 665.00,57.05 666.00,57.08 667.00,57.10 668.00,57.12 669.00,57.15 670.00,57.18 671.00,57.20 671.00,66.10 670.00,66.06 669.00,66.02 668.00,65.97 667.00,65.93 666.00,65.89 665.00,65.85 664.00,65.81 663.00,65.77 662.00,65.73 661.00,65.69 660.00,65.65 659.00,65.61 658.00,65.57 657.00,65.53 656.00,65.49 655.00,65.45 654.00,65.41 653.00,65.38 652.00,65.34 651.00,65.30 650.00,65.26 649.00,65.23 648.00,65.19 647.00,65.15 646.00,65.12 645.00,65.08 644.00,65.04 643.00,65.01 642.00,64.97 641.00,64.94 640.00,64.90 639.00,64.87 638.00,64.83 637.00,64.80 636.00,64.77 635.00,64.73 634.00,64.70 633.00,64.67 632.00,64.63 631.00,64.60 630.00,64.57 629.00,64.54 628.00,64.51 627.00,64.47 626.00,64.44 625.00,64.41 624.00,64.38 623.00,64.35 622.00,64.32 621.00,64.29 620.00,64.26 619.00,64.24 618.00,64.21 617.00,64.18 616.00,64.15 615.00,64.12 614.00,64.09 613.00,64.06 612.00,64.03 611.00,64.00 610.00,63.97 609.00,63.94 608.00,63.91 607.00,63.88 606.00,63.86 605.00,63.83 604.00,63.80 603.00,63.77 602.00,63.74 601.00,63.71 600.00,63.69 599.00,63.66 598.00,63.63 597.00,63.60 596.00,63.57 595.00,63.53 594.00,63.50 593.00,63.47 592.00,63.43 591.00,63.40 590.00,63.36 589.00,63.32 588.00,63.28 587.00,63.24 586.00,63.20 585.00,63.16 584.00,63.12 583.00,63.07 582.00,63.02 581.00,62.98 580.00,62.93 579.00,62.88 578.00,62.84 577.00,62.79 576.00,62.74 575.00,62.69 574.00,62.64 573.00,62.60 572.00,62.55 571.00,62.50 570.00,62.45 569.00,62.40 568.00,62.35 567.00,62.30 566.00,62.25 565.00,62.20 564.00,62.14 563.00,62.09 562.00,62.04 561.00,61.98 560.00,61.93 559.00,61.88 558.00,61.83 557.00,61.78 556.00,61.73 555.00,61.68 554.00,61.63 553.00,61.59 552.00,61.54 551.00,61.50 550.00,61.46 549.00,61.42 548.00,61.38 547.00,61.34 546.00,61.31 545.00,61.27 544.00,61.23 543.00,61.20 542.00,61.16 541.00,61.13 540.00,61.09 539.00,61.06 538.00,61.03 537.00,60.99 536.00,60.96 535.00,60.93 534.00,60.90 533.00,60.86 532.00,60.83 531.00,60.80 530.00,60.77 529.00,60.74 528.00,60.71 527.00,60.68 526.00,60.65 525.00,60.62 524.00,60.59 523.00,60.56 522.00,60.53 521.00,60.50 520.00,60.47 519.00,60.44 518.00,60.41 517.00,60.38 516.00,60.35 515.00,60.32 514.00,60.29 513.00,60.26 512.00,60.23 511.00,60.20 510.00,60.17 509.00,60.13 508.00,60.10 507.00,60.06 506.00,60.03 505.00,59.99 504.00,59.96 503.00,59.92 502.00,59.89 501.00,59.85 500.00,59.81 499.00,59.78 498.00,59.74 497.00,59.71 496.00,59.67 495.00,59.64 494.00,59.60 493.00,59.57 492.00,59.53 491.00,59.50 490.00,59.47 489.00,59.44 488.00,59.41 487.00,59.38 486.00,59.35 485.00,59.32 484.00,59.29 483.00,59.26 482.00,59.23 481.00,59.20 480.00,59.18 479.00,59.15 478.00,59.12 477.00,59.09 476.00,59.06 475.00,59.03 474.00,59.00 473.00,58.97 472.00,58.93 471.00,58.90 470.00,58.87 469.00,58.83 467.00,58.75 466.00,58.71 464.00,58.63 463.00,58.59 461.00,58.51 460.00,58.47 458.00,58.38 457.00,58.34 455.00,58.26 454.00,58.22 452.00,58.14 451.00,58.10 449.00,58.03 448.00,57.99 446.00,57.92 445.00,57.88 443.00,57.81 442.00,57.77 440.00,57.70 439.00,57.67 437.00,57.60 436.00,57.57 434.00,57.50 431.00,57.40 428.00,57.31 425.00,57.22 422.00,57.14 419.00,57.05 416.00,56.96 413.00,56.87 410.00,56.76 407.00,56.64 404.00,56.51 401.00,56.37 398.00,56.22 395.00,56.08 392.00,55.94 389.00,55.82 386.00,55.69 383.00,55.56 380.00,55.44 377.00,55.32 374.00,55.21 371.00,55.10 368.00,55.00 365.00,54.91 362.00,54.82 359.00,54.74 356.00,54.65 353.00,54.56 350.00,54.47 347.00,54.37 344.00,54.26 341.00,54.15 338.00,54.04 335.00,53.93 332.00,53.83 329.00,53.74 326.00,53.64 323.00,53.55 320.00,53.46 317.00,53.38 314.00,53.29 311.00,53.20 308.00,53.11 305.00,53.03 302.00,52.94 299.00,52.85 296.00,52.76 293.00,52.67 290.00,52.57 287.00,52.45 284.00,52.34 281.00,52.21 278.00,52.09 275.00,51.96 272.00,51.84 269.00,51.72 266.00,51.60 263.00,51.47 260.00,51.35 257.00,51.23 254.00,51.11 251.00,51.00 248.00,50.89 245.00,50.79 242.00,50.68 239.00,50.58 236.00,50.48 233.00,50.37 230.00,50.26 227.00,50.15 224.00,50.02 221.00,49.90 218.00,49.78 215.00,49.65 212.00,49.54 209.00,49.43 206.00,49.31 203.00,49.20 200.00,49.09 197.00,48.99 194.00,48.89 191.00,48.80 188.00,48.72 185.00,48.64 182.00,48.57 179.00,48.50 176.00,48.43 173.00,48.35 170.00,48.27 167.00,48.19 164.00,48.10 161.00,48.01 158.00,47.91 155.00,47.82 152.00,47.73 149.00,47.64 146.00,47.55 143.00,47.46 140.00,47.37 137.00,47.28 134.00,47.19 131.00,47.10 126.10,46.95 121.42,46.79 116.94,46.64 112.67,46.46 108.60,46.28 104.75,46.10 101.10,45.91 97.67,45.70 94.44,45.48 91.42,45.28 88.60,45.11 86.00,44.95 83.60,44.78 81.42,44.61 79.44,44.44 77.67,44.28 76.10,44.13 74.75,44.01 73.60,43.90 72.67,43.82 71.94,43.75 71.42,43.71 71.10,43.68 71.00,43.67" fill="#FED660"/>
<use href="#grid" opacity="0.3"/>
<rect x="80" y="131" width="161" height="205" fill="#fff"/>
<rect x="87.5" y="140.00" width="8.6" height="8.8" fill="#FFD966"/>
<text x="100.6" y="149.80">Picherande</text>
<rect x="87.5" y="164.70" width="8.6" height="8.8" fill="#C883F7"/>
<text x="100.6" y="174.50">Saint Denis</text>
<rect x="87.5" y="189.40" width="8.6" height="8.8" fill="#6CCF96"/>
<text x="100.6" y="199.20">Paris</text>
<rect x="87.5" y="214.10" width="8.6" height="8.8" fill="#8D97A8"/>
<text x="100.6" y="223.90">Saint Remy</text>
<rect x="87.5" y="238.80" width="8.6" height="8.8" fill="#DAEBD0"/>
<text x="100.6" y="248.60">Salins de Giraud</text>
<rect x="87.5" y="263.50" width="8.6" height="8.8" fill="#DA9467"/>
<text x="100.6" y="273.30">Ponteau Martigues</text>
<rect x="87.5" y="288.20" width="8.6" height="8.8" fill="#4CC3F0"/>
<text x="100.6" y="298.00">Biarritz</text>
<rect x="87.5" y="312.90" width="8.6" height="8.8" fill="#FF7B7B"/>
<text x="100.6" y="322.70">Auby</text>
<g stroke="#000" stroke-width="1.4" fill="none">
<line x1="71" y1="300.69" x2="76" y2="300.69"/>
<line x1="71" y1="263.98" x2="76" y2="263.98"/>
<line x1="71" y1="227.27" x2="76" y2="227.27"/>
<line x1="71" y1="190.56" x2="76" y2="190.56"/>
<line x1="71" y1="153.84" x2="76" y2="153.84"/>
<line x1="71" y1="117.13" x2="76" y2="117.13"/>
<line x1="71" y1="80.42" x2="76" y2="80.42"/>
<line x1="71" y1="43.71" x2="76" y2="43.71"/>
<line x1="131.00" y1="337" x2="131.00" y2="331.8"/>
<line x1="191.00" y1="337" x2="191.00" y2="331.8"/>
<line x1="251.00" y1="337" x2="251.00" y2="331.8"/>
<line x1="311.00" y1="337" x2="311.00" y2="331.8"/>
<line x1="371.00" y1="337" x2="371.00" y2="331.8"/>
<line x1="431.00" y1="337" x2="431.00" y2="331.8"/>
<line x1="491.00" y1="337" x2="491.00" y2="331.8"/>
<line x1="551.00" y1="337" x2="551.00" y2="331.8"/>
<line x1="611.00" y1="337" x2="611.00" y2="331.8"/>
</g>
<rect x="71" y="7" width="600" height="330.4" fill="none" stroke="#000" stroke-width="1.45"/>
<text x="55.5" y="343.40" text-anchor="end">0</text>
<text x="55.5" y="306.69" text-anchor="end">50</text>
<text x="55.5" y="269.98" text-anchor="end">100</text>
<text x="55.5" y="233.27" text-anchor="end">150</text>
<text x="55.5" y="196.56" text-anchor="end">200</text>
<text x="55.5" y="159.84" text-anchor="end">250</text>
<text x="55.5" y="123.13" text-anchor="end">300</text>
<text x="55.5" y="86.42" text-anchor="end">350</text>
<text x="55.5" y="49.71" text-anchor="end">400</text>
<text x="55.5" y="13.00" text-anchor="end">450</text>
<text x="71.00" y="364.4" text-anchor="middle">0</text>
<text x="131.00" y="364.4" text-anchor="middle">10</text>
<text x="191.00" y="364.4" text-anchor="middle">20</text>
<text x="251.00" y="364.4" text-anchor="middle">30</text>
<text x="311.00" y="364.4" text-anchor="middle">40</text>
<text x="371.00" y="364.4" text-anchor="middle">50</text>
<text x="431.00" y="364.4" text-anchor="middle">60</text>
<text x="491.00" y="364.4" text-anchor="middle">70</text>
<text x="551.00" y="364.4" text-anchor="middle">80</text>
<text x="611.00" y="364.4" text-anchor="middle">90</text>
<text x="671.00" y="364.4" text-anchor="middle">100</text>
<text x="372.1" y="395.9" text-anchor="middle">Time (year)</text>
<text transform="translate(14.4,275.75) rotate(-90)" xml:space="preserve">Load carrying capacity  (kN)</text>
</svg>
</body></html>
